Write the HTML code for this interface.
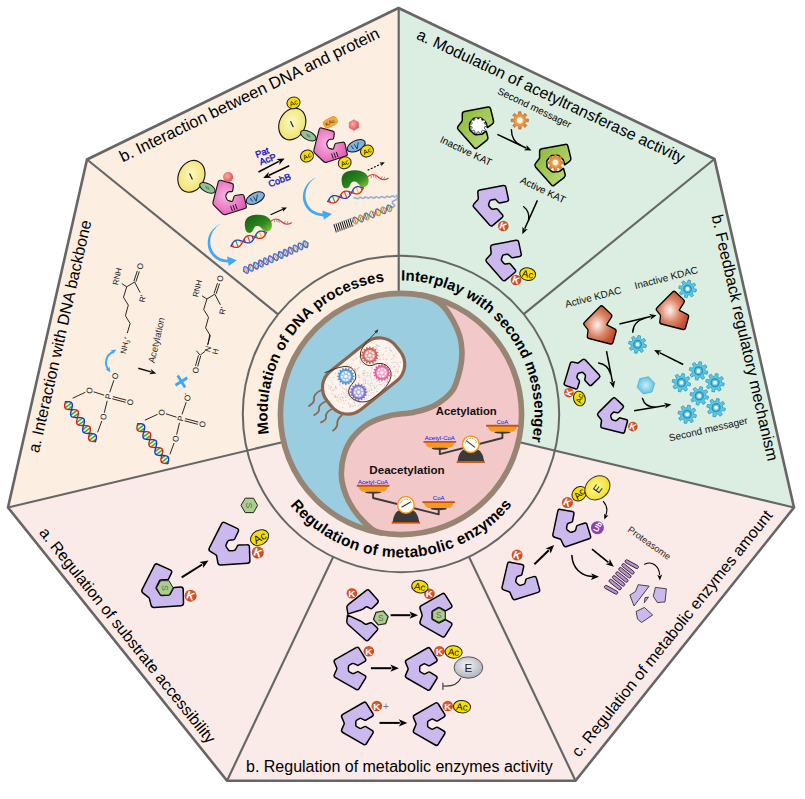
<!DOCTYPE html>
<html><head><meta charset="utf-8"><title>Figure</title>
<style>html,body{margin:0;padding:0;background:#fff;}svg{display:block}text{font-family:"Liberation Sans",sans-serif;}</style>
</head><body>
<svg width="805" height="799" viewBox="0 0 805 799">
<rect width="805" height="799" fill="#fff"/>
<polygon points="401.0,414.0 8.0,507.5 87.0,159.5 398.5,8.0 398.5,414" fill="#fceee0"/>
<polygon points="398.5,414 398.5,8.0 714.5,159.0 794.0,507.5 401.0,414.0" fill="#dceee1"/>
<polygon points="401.0,414.0 794.0,507.5 575.5,780.7 227.0,780.7 8.0,507.5" fill="#fbebe8"/>
<line x1="523.7" y1="314.2" x2="714.5" y2="159" stroke="#666666" stroke-width="2.15"/>
<line x1="469.0" y1="556.9" x2="575.5" y2="780.7" stroke="#666666" stroke-width="2.15"/>
<line x1="333.2" y1="556.9" x2="227" y2="780.7" stroke="#666666" stroke-width="2.15"/>
<line x1="278.1" y1="314.4" x2="87" y2="159.5" stroke="#666666" stroke-width="2.15"/>
<line x1="518.7" y1="442.0" x2="794" y2="507.5" stroke="#666666" stroke-width="2.15"/>
<line x1="283.3" y1="442.0" x2="8" y2="507.5" stroke="#666666" stroke-width="2.15"/>
<line x1="398.7" y1="295" x2="398.7" y2="8" stroke="#666666" stroke-width="2.15"/>
<polygon points="398.5,8.0 714.5,159.0 794.0,507.5 575.5,780.7 227.0,780.7 8.0,507.5 87.0,159.5" fill="none" stroke="#666666" stroke-width="2.6" stroke-linejoin="miter"/>
<circle cx="401" cy="414" r="158.2" fill="none" stroke="#666666" stroke-width="2"/>
<circle cx="401" cy="414" r="120.6" fill="#f2c8c9"/>
<clipPath id="cc"><circle cx="401" cy="414" r="120.6"/></clipPath>
<path d="M417.8,294.6C419.8,295.1 425.8,295.6 430.0,297.5C434.2,299.4 439.1,302.1 442.9,305.9C446.7,309.7 450.2,315.4 453.0,320.5C455.8,325.6 458.3,331.1 459.8,336.3C461.3,341.6 461.9,346.8 462.0,352.0C462.1,357.2 461.9,361.4 460.4,367.8C458.8,374.2 456.9,384.1 452.7,390.3C448.5,396.5 441.4,401.6 435.0,405.2C428.6,408.8 421.6,410.4 414.0,412.2C406.4,413.9 397.2,413.8 389.6,415.7C382.0,417.6 374.6,420.0 368.5,423.6C362.4,427.2 356.9,432.4 352.8,437.6C348.7,442.8 345.9,448.6 344.0,455.0C342.1,461.4 341.1,469.3 341.4,476.0C341.7,482.7 343.8,489.4 345.9,495.0C348.0,500.6 350.8,505.2 353.8,509.7C356.8,514.2 360.6,518.5 364.0,522.0C367.4,525.5 370.8,528.6 374.0,530.5C377.2,532.4 381.5,533.0 383.0,533.5 L383,560 L250,560 L250,250 L417.8,250 Z" fill="#9acde0" clip-path="url(#cc)"/>
<path d="M417.8,294.6C419.8,295.1 425.8,295.6 430.0,297.5C434.2,299.4 439.1,302.1 442.9,305.9C446.7,309.7 450.2,315.4 453.0,320.5C455.8,325.6 458.3,331.1 459.8,336.3C461.3,341.6 461.9,346.8 462.0,352.0C462.1,357.2 461.9,361.4 460.4,367.8C458.8,374.2 456.9,384.1 452.7,390.3C448.5,396.5 441.4,401.6 435.0,405.2C428.6,408.8 421.6,410.4 414.0,412.2C406.4,413.9 397.2,413.8 389.6,415.7C382.0,417.6 374.6,420.0 368.5,423.6C362.4,427.2 356.9,432.4 352.8,437.6C348.7,442.8 345.9,448.6 344.0,455.0C342.1,461.4 341.1,469.3 341.4,476.0C341.7,482.7 343.8,489.4 345.9,495.0C348.0,500.6 350.8,505.2 353.8,509.7C356.8,514.2 360.6,518.5 364.0,522.0C367.4,525.5 370.8,528.6 374.0,530.5C377.2,532.4 381.5,533.0 383.0,533.5" fill="none" stroke="#978473" stroke-width="5.6"/>
<circle cx="401" cy="414" r="120.6" fill="none" stroke="#978473" stroke-width="5.6"/>
<defs><path id="rp1" d="M285.39,480.75 A133.5,133.5 0 0 1 446.66,288.55" fill="none"/><path id="rp2" d="M355.34,288.55 A133.5,133.5 0 0 1 510.36,490.57" fill="none"/><path id="rp3" d="M259.68,438.92 A143.5,143.5 0 0 0 542.32,438.92" fill="none"/></defs>
<text font-family="Liberation Sans, sans-serif" font-weight="bold" font-size="15" letter-spacing="0" fill="#000"><textPath href="#rp1" startOffset="49.86">Modulation of DNA processes</textPath></text>
<text font-family="Liberation Sans, sans-serif" font-weight="bold" font-size="15" letter-spacing="0" fill="#000"><textPath href="#rp2" startOffset="46.60">Interplay with second messenger</textPath></text>
<text font-family="Liberation Sans, sans-serif" font-weight="bold" font-size="15.5" letter-spacing="0.27" fill="#000"><textPath href="#rp3" startOffset="73.63">Regulation of metabolic enzymes</textPath></text>
<text transform="translate(38.8,453.6) rotate(-77.2)" font-family="Liberation Sans, sans-serif" font-size="16.1" fill="#000" text-anchor="start">a. Interaction with DNA backbone</text>
<text transform="translate(122.7,162.5) rotate(-25.9)" font-family="Liberation Sans, sans-serif" font-size="16.46" fill="#000" text-anchor="start">b. Interaction between DNA and protein</text>
<text transform="translate(415.5,38.4) rotate(25.2)" font-family="Liberation Sans, sans-serif" font-size="16.05" fill="#000" text-anchor="start">a. Modulation of acetyltransferase activity</text>
<text transform="translate(711.4,216) rotate(77.1)" font-family="Liberation Sans, sans-serif" font-size="16.16" fill="#000" text-anchor="start">b. Feedback regulatory mechanism</text>
<text transform="translate(579.1,758) rotate(-51.3)" font-family="Liberation Sans, sans-serif" font-size="16.02" fill="#000" text-anchor="start">c. Regulation of metabolic enzymes amount</text>
<text transform="translate(246,771.8) rotate(0)" font-family="Liberation Sans, sans-serif" font-size="16.0" fill="#000" text-anchor="start">b. Regulation of metabolic enzymes activity</text>
<text transform="translate(38.4,532.8) rotate(51.3)" font-family="Liberation Sans, sans-serif" font-size="15.95" fill="#000" text-anchor="start">a. Regulation of substrate accessibility</text>
<defs>
<radialGradient id="gK" cx="0.45" cy="0.4" r="0.6"><stop offset="0" stop-color="#e0683e"/><stop offset="1" stop-color="#c4481f"/></radialGradient>
<radialGradient id="gY" cx="0.45" cy="0.45" r="0.6"><stop offset="0" stop-color="#fdf9c4"/><stop offset="1" stop-color="#efe06a"/></radialGradient>
<radialGradient id="gE" cx="0.45" cy="0.45" r="0.6"><stop offset="0" stop-color="#fff9a0"/><stop offset="1" stop-color="#f2dc1a"/></radialGradient>
<radialGradient id="gEg" cx="0.45" cy="0.4" r="0.65"><stop offset="0" stop-color="#f4f5f7"/><stop offset="1" stop-color="#a9adb6"/></radialGradient>
<radialGradient id="gKD" cx="0.42" cy="0.5" r="0.55"><stop offset="0" stop-color="#fff4ee"/><stop offset="0.55" stop-color="#dd8768"/><stop offset="1" stop-color="#bf4f30"/></radialGradient>
<radialGradient id="gPk" cx="0.4" cy="0.45" r="0.65"><stop offset="0" stop-color="#f7b6e0"/><stop offset="1" stop-color="#e257b4"/></radialGradient>
<linearGradient id="gGr" x1="0" y1="0" x2="1" y2="1"><stop offset="0" stop-color="#86b531"/><stop offset="1" stop-color="#c3df84"/></linearGradient>
<radialGradient id="gRd" cx="0.4" cy="0.4" r="0.6"><stop offset="0" stop-color="#f9b0a8"/><stop offset="1" stop-color="#e5525c"/></radialGradient>
<radialGradient id="gHx" cx="0.5" cy="0.5" r="0.6"><stop offset="0" stop-color="#c9eef8"/><stop offset="1" stop-color="#4fb8dc"/></radialGradient>
<radialGradient id="gOr" cx="0.5" cy="0.5" r="0.55"><stop offset="0" stop-color="#f6c27a"/><stop offset="1" stop-color="#d9701c"/></radialGradient>
<radialGradient id="gBl" cx="0.5" cy="0.5" r="0.55"><stop offset="0" stop-color="#bfe6f2"/><stop offset="1" stop-color="#3aa6cc"/></radialGradient>
<linearGradient id="gGb" x1="0" y1="0" x2="1" y2="1"><stop offset="0" stop-color="#0e5a12"/><stop offset="0.6" stop-color="#2f8a1f"/><stop offset="1" stop-color="#9ccc3c"/></linearGradient>
</defs>
<text transform="translate(533.0,110.8) rotate(25.6)" font-family="Liberation Sans, sans-serif" font-size="10" fill="#000" text-anchor="middle" font-weight="normal" font-style="normal" letter-spacing="0">Second messager</text>
<text transform="translate(464.5,154) rotate(25.6)" font-family="Liberation Sans, sans-serif" font-size="10" fill="#000" text-anchor="middle" font-weight="normal" font-style="normal" letter-spacing="0">Inactive KAT</text>
<text transform="translate(541.5,193) rotate(25.6)" font-family="Liberation Sans, sans-serif" font-size="10" fill="#000" text-anchor="middle" font-weight="normal" font-style="normal" letter-spacing="0">Active KAT</text>
<path d="M462.3,114.1Q462.3,111.9 464.5,111.5L487.9,107.1Q490.1,106.7 490.6,108.8L493.5,120.7Q494.0,122.8 492.2,124.1L487.7,127.3Q487.3,127.6 487.2,127.1L486.4,123.6Q486.2,122.8 485.6,122.2L481.7,118.5Q480.9,117.8 479.9,117.9L474.8,118.2Q473.8,118.3 473.1,119.1L470.1,122.6Q469.5,123.4 469.5,124.4L469.7,129.0Q469.7,130.0 470.5,130.7L474.3,134.1Q475.1,134.8 476.1,134.7L481.5,134.2Q482.3,134.1 482.9,133.6L485.7,131.3Q486.1,131.0 486.3,131.5L487.8,136.8Q488.5,138.9 486.7,140.3L477.1,147.8Q475.4,149.2 474.0,147.5L458.2,129.6Q456.8,128.0 458.1,126.3L461.8,121.5Q462.3,120.9 462.3,120.1Z" fill="url(#gGr)" stroke="#000" stroke-width="1.5" stroke-linejoin="round"/>
<path d="M484.6,124.1L486.5,124.4L486.5,126.4L484.6,126.7L484.1,128.2L485.5,129.5L484.4,131.1L482.7,130.2L481.4,131.1L481.7,133.0L479.8,133.6L479.0,131.9L477.4,131.9L476.6,133.6L474.7,133.0L475.0,131.1L473.7,130.2L472.0,131.1L470.9,129.5L472.3,128.2L471.8,126.7L469.9,126.4L469.9,124.4L471.8,124.1L472.3,122.6L470.9,121.3L472.0,119.7L473.7,120.6L475.0,119.7L474.7,117.8L476.6,117.2L477.4,118.9L479.0,118.9L479.8,117.2L481.7,117.8L481.4,119.7L482.7,120.6L484.4,119.7L485.5,121.3L484.1,122.6Z" fill="#fff" stroke="#222" stroke-width="0.7" stroke-linejoin="round"/>
<path d="M539.6,151.4Q539.6,149.2 541.8,148.8L565.2,144.4Q567.4,144.0 567.9,146.1L570.8,158.0Q571.3,160.1 569.5,161.4L565.0,164.6Q564.6,164.9 564.5,164.4L563.7,160.9Q563.5,160.1 562.9,159.5L559.0,155.8Q558.2,155.1 557.2,155.2L552.1,155.5Q551.1,155.6 550.4,156.4L547.4,159.9Q546.8,160.7 546.8,161.7L547.0,166.3Q547.0,167.3 547.8,168.0L551.6,171.4Q552.4,172.1 553.4,172.0L558.8,171.5Q559.6,171.4 560.2,170.9L563.0,168.6Q563.4,168.3 563.6,168.8L565.1,174.1Q565.8,176.2 564.0,177.6L554.4,185.1Q552.7,186.5 551.3,184.8L535.5,166.9Q534.1,165.3 535.4,163.6L539.1,158.8Q539.6,158.2 539.6,157.4Z" fill="url(#gGr)" stroke="#000" stroke-width="1.5" stroke-linejoin="round"/>
<path d="M560.9,161.2L563.6,161.4L563.6,163.8L560.9,164.0L560.2,165.5L562.1,167.5L560.3,169.3L558.3,167.4L556.8,168.1L556.6,170.8L554.2,170.8L554.0,168.1L552.5,167.4L550.5,169.3L548.7,167.5L550.6,165.5L549.9,164.0L547.2,163.8L547.2,161.4L549.9,161.2L550.6,159.7L548.7,157.7L550.5,155.9L552.5,157.8L554.0,157.1L554.2,154.4L556.6,154.4L556.8,157.1L558.3,157.8L560.3,155.9L562.1,157.7L560.2,159.7Z" fill="url(#gOr)" stroke="#c9651b" stroke-width="0.6" stroke-linejoin="round"/>
<circle cx="555.4" cy="162.6" r="2.8" fill="#fff3dc"/>
<path d="M525.6,119.0L528.5,119.1L528.5,121.7L525.6,121.8L524.9,123.5L526.9,125.6L525.0,127.5L522.9,125.5L521.2,126.2L521.1,129.1L518.5,129.1L518.4,126.2L516.7,125.5L514.6,127.5L512.7,125.6L514.7,123.5L514.0,121.8L511.1,121.7L511.1,119.1L514.0,119.0L514.7,117.3L512.7,115.2L514.6,113.3L516.7,115.3L518.4,114.6L518.5,111.7L521.1,111.7L521.2,114.6L522.9,115.3L525.0,113.3L526.9,115.2L524.9,117.3Z" fill="url(#gOr)" stroke="#c9651b" stroke-width="0.6" stroke-linejoin="round"/>
<circle cx="519.8" cy="120.4" r="3.0" fill="#eef4e6"/>
<line x1="497.4" y1="134.4" x2="526.1" y2="148.0" stroke="#000" stroke-width="1.5"/>
<polygon points="531.5,150.6 523.9,150.3 526.8,148.3 526.4,144.9" fill="#000"/>
<path d="M511.4,129.7 C511.5,137 514,142 520.5,145.2" fill="none" stroke="#000" stroke-width="1.4" stroke-linecap="round"/>
<path d="M477.8,192.6Q477.7,190.4 479.8,190.0L503.2,185.5Q505.4,185.1 505.9,187.3L508.4,199.0Q508.9,201.1 506.7,201.6L499.8,203.0Q499.0,203.1 498.4,202.5L496.1,200.1Q495.3,199.2 494.1,199.4L491.2,200.0Q490.0,200.2 489.6,201.4L488.7,204.2Q488.3,205.4 489.1,206.3L491.0,208.5Q491.7,209.4 492.9,209.2L496.3,208.7Q497.1,208.6 497.6,209.2L502.2,214.6Q503.7,216.3 502.0,217.7L492.8,225.3Q491.1,226.7 489.6,225.1L473.9,207.2Q472.5,205.5 473.9,203.9L477.8,199.7Q478.4,199.1 478.3,198.3Z" fill="#cbb8ec" stroke="#000" stroke-width="1.5" stroke-linejoin="round"/>
<circle cx="503.3" cy="226" r="5.3" fill="url(#gK)"/>
<text transform="translate(503.3,226) rotate(20)" x="0" y="3.5" font-family="Liberation Sans, sans-serif" font-size="9.8" font-weight="bold" fill="#fff" text-anchor="middle">K</text>
<line x1="537.4" y1="200.4" x2="524.7" y2="228.8" stroke="#000" stroke-width="1.5"/>
<polygon points="522.3,234.3 522.5,226.7 524.4,229.5 527.8,229.1" fill="#000"/>
<path d="M523.7,206.7 C528,210 529.5,215 528.6,220.5" fill="none" stroke="#000" stroke-width="1.4" stroke-linecap="round"/>
<path d="M490.6,247.4Q490.5,245.2 492.6,244.8L516.0,240.3Q518.2,239.9 518.7,242.1L521.2,253.8Q521.7,255.9 519.5,256.4L512.6,257.8Q511.8,257.9 511.2,257.3L508.9,254.9Q508.1,254.0 506.9,254.2L504.0,254.8Q502.8,255.0 502.4,256.2L501.5,259.0Q501.1,260.2 501.9,261.1L503.8,263.3Q504.5,264.2 505.7,264.0L509.1,263.5Q509.9,263.4 510.4,264.0L515.0,269.4Q516.5,271.1 514.8,272.5L505.6,280.1Q503.9,281.5 502.4,279.9L486.7,262.0Q485.3,260.3 486.7,258.7L490.6,254.5Q491.2,253.9 491.1,253.1Z" fill="#cbb8ec" stroke="#000" stroke-width="1.5" stroke-linejoin="round"/>
<circle cx="516" cy="280" r="5.3" fill="url(#gK)"/>
<text transform="translate(516,280) rotate(20)" x="0" y="3.5" font-family="Liberation Sans, sans-serif" font-size="9.8" font-weight="bold" fill="#fff" text-anchor="middle">K</text>
<ellipse transform="translate(527.7,274.1) rotate(10)" rx="8" ry="6.3" fill="#f7e000" stroke="#222" stroke-width="1"/>
<text transform="translate(527.7,274.1) rotate(10)" x="0" y="3.5" font-family="Liberation Sans, sans-serif" font-size="9.8" fill="#111" text-anchor="middle">Ac</text>
<text transform="translate(594,300.5) rotate(-14.5)" font-family="Liberation Sans, sans-serif" font-size="10" fill="#111" text-anchor="middle" font-weight="normal" font-style="normal" letter-spacing="0">Active KDAC</text>
<text transform="translate(667,281) rotate(-14.5)" font-family="Liberation Sans, sans-serif" font-size="10" fill="#111" text-anchor="middle" font-weight="normal" font-style="normal" letter-spacing="0">Inactive KDAC</text>
<text transform="translate(709,432.5) rotate(-12.9)" font-family="Liberation Sans, sans-serif" font-size="10" fill="#111" text-anchor="middle" font-weight="normal" font-style="normal" letter-spacing="0">Second messager</text>
<path d="M693.8,288.7L696.5,289.4L695.9,292.0L693.2,291.6L692.2,293.2L693.5,295.6L691.3,297.0L689.6,294.8L687.8,295.1L687.1,297.8L684.5,297.2L684.9,294.5L683.3,293.5L680.9,294.8L679.5,292.6L681.7,290.9L681.4,289.1L678.7,288.4L679.3,285.8L682.0,286.2L683.0,284.6L681.7,282.2L683.9,280.8L685.6,283.0L687.4,282.7L688.1,280.0L690.7,280.6L690.3,283.3L691.9,284.3L694.3,283.0L695.7,285.2L693.5,286.9Z" fill="#62c5e1" stroke="#2b9cc3" stroke-width="0.8" stroke-linejoin="round"/>
<circle cx="687.6" cy="288.9" r="3.7" fill="none" stroke="#2497c0" stroke-width="1.5"/>
<circle cx="687.6" cy="288.9" r="1.8" fill="#f2faf6"/>
<path d="M584.3,325.2Q583.0,323.6 584.5,322.2L600.1,306.5Q601.5,305.0 603.0,306.4L611.1,314.1Q612.6,315.5 611.5,317.2L607.0,324.2Q606.5,324.9 607.3,325.2L614.7,328.9Q616.6,329.8 616.0,331.8L613.0,342.5Q612.4,344.5 610.4,344.0L589.0,338.5Q587.0,338.0 587.3,336.0L588.0,330.7Q588.2,330.0 587.7,329.3Z" fill="url(#gKD)" stroke="#000" stroke-width="1.3" stroke-linejoin="round"/>
<path d="M656.8,310.7Q655.5,309.1 657.0,307.7L672.6,292.0Q674.0,290.5 675.5,291.9L683.6,299.6Q685.1,301.0 684.0,302.7L679.5,309.7Q679.0,310.4 679.8,310.7L687.2,314.4Q689.1,315.3 688.5,317.3L685.5,328.0Q684.9,330.0 682.9,329.5L661.5,324.0Q659.5,323.5 659.8,321.5L660.5,316.2Q660.7,315.5 660.2,314.8Z" fill="url(#gKD)" stroke="#000" stroke-width="1.3" stroke-linejoin="round"/>
<line x1="619.4" y1="324.1" x2="650.8" y2="316.6" stroke="#000" stroke-width="1.5"/>
<polygon points="656.6,315.2 650.5,319.7 651.5,316.4 649.1,314.0" fill="#000"/>
<path d="M632.8,332.2 C633,325 637,320.5 645,318.2" fill="none" stroke="#000" stroke-width="1.4" stroke-linecap="round"/>
<path d="M643.8,344.2L646.5,344.9L645.9,347.6L643.2,347.2L642.1,348.7L643.5,351.1L641.2,352.6L639.6,350.4L637.7,350.7L637.0,353.4L634.3,352.8L634.7,350.1L633.2,349.0L630.8,350.4L629.3,348.1L631.5,346.5L631.2,344.6L628.5,343.9L629.1,341.2L631.8,341.6L632.9,340.1L631.5,337.7L633.8,336.2L635.4,338.4L637.3,338.1L638.0,335.4L640.7,336.0L640.3,338.7L641.8,339.8L644.2,338.4L645.7,340.7L643.5,342.3Z" fill="#62c5e1" stroke="#2b9cc3" stroke-width="0.8" stroke-linejoin="round"/>
<circle cx="637.5" cy="344.4" r="3.8" fill="none" stroke="#2497c0" stroke-width="1.5"/>
<circle cx="637.5" cy="344.4" r="1.8" fill="#f2faf6"/>
<line x1="683.2" y1="364.5" x2="659.5" y2="352.6" stroke="#000" stroke-width="1.5"/>
<polygon points="654.1,349.9 661.7,350.4 658.8,352.3 659.0,355.7" fill="#000"/>
<path d="M705.0,370.7L707.8,371.5L707.2,374.2L704.4,373.7L703.3,375.3L704.7,377.9L702.3,379.4L700.6,377.1L698.7,377.4L697.9,380.2L695.2,379.6L695.7,376.8L694.1,375.7L691.5,377.1L690.0,374.7L692.3,373.0L692.0,371.1L689.2,370.3L689.8,367.6L692.6,368.1L693.7,366.5L692.3,363.9L694.7,362.4L696.4,364.7L698.3,364.4L699.1,361.6L701.8,362.2L701.3,365.0L702.9,366.1L705.5,364.7L707.0,367.1L704.7,368.8Z" fill="#62c5e1" stroke="#2b9cc3" stroke-width="0.8" stroke-linejoin="round"/>
<circle cx="698.5" cy="370.9" r="3.9" fill="none" stroke="#2497c0" stroke-width="1.5"/>
<circle cx="698.5" cy="370.9" r="1.9" fill="#f2faf6"/>
<path d="M687.9,382.5L690.7,383.3L690.1,386.0L687.3,385.5L686.2,387.1L687.6,389.7L685.2,391.2L683.5,388.9L681.6,389.2L680.8,392.0L678.1,391.4L678.6,388.6L677.0,387.5L674.4,388.9L672.9,386.5L675.2,384.8L674.9,382.9L672.1,382.1L672.7,379.4L675.5,379.9L676.6,378.3L675.2,375.7L677.6,374.2L679.3,376.5L681.2,376.2L682.0,373.4L684.7,374.0L684.2,376.8L685.8,377.9L688.4,376.5L689.9,378.9L687.6,380.6Z" fill="#62c5e1" stroke="#2b9cc3" stroke-width="0.8" stroke-linejoin="round"/>
<circle cx="681.4" cy="382.7" r="3.9" fill="none" stroke="#2497c0" stroke-width="1.5"/>
<circle cx="681.4" cy="382.7" r="1.9" fill="#f2faf6"/>
<path d="M721.5,382.5L724.3,383.3L723.7,386.0L720.9,385.5L719.8,387.1L721.2,389.7L718.8,391.2L717.1,388.9L715.2,389.2L714.4,392.0L711.7,391.4L712.2,388.6L710.6,387.5L708.0,388.9L706.5,386.5L708.8,384.8L708.5,382.9L705.7,382.1L706.3,379.4L709.1,379.9L710.2,378.3L708.8,375.7L711.2,374.2L712.9,376.5L714.8,376.2L715.6,373.4L718.3,374.0L717.8,376.8L719.4,377.9L722.0,376.5L723.5,378.9L721.2,380.6Z" fill="#62c5e1" stroke="#2b9cc3" stroke-width="0.8" stroke-linejoin="round"/>
<circle cx="715" cy="382.7" r="3.9" fill="none" stroke="#2497c0" stroke-width="1.5"/>
<circle cx="715" cy="382.7" r="1.9" fill="#f2faf6"/>
<path d="M705.8,395.7L708.6,396.5L708.0,399.2L705.2,398.7L704.1,400.3L705.5,402.9L703.1,404.4L701.4,402.1L699.5,402.4L698.7,405.2L696.0,404.6L696.5,401.8L694.9,400.7L692.3,402.1L690.8,399.7L693.1,398.0L692.8,396.1L690.0,395.3L690.6,392.6L693.4,393.1L694.5,391.5L693.1,388.9L695.5,387.4L697.2,389.7L699.1,389.4L699.9,386.6L702.6,387.2L702.1,390.0L703.7,391.1L706.3,389.7L707.8,392.1L705.5,393.8Z" fill="#62c5e1" stroke="#2b9cc3" stroke-width="0.8" stroke-linejoin="round"/>
<circle cx="699.3" cy="395.9" r="3.9" fill="none" stroke="#2497c0" stroke-width="1.5"/>
<circle cx="699.3" cy="395.9" r="1.9" fill="#f2faf6"/>
<path d="M693.7,414.1L696.5,414.9L695.9,417.6L693.1,417.1L692.0,418.7L693.4,421.3L691.0,422.8L689.3,420.5L687.4,420.8L686.6,423.6L683.9,423.0L684.4,420.2L682.8,419.1L680.2,420.5L678.7,418.1L681.0,416.4L680.7,414.5L677.9,413.7L678.5,411.0L681.3,411.5L682.4,409.9L681.0,407.3L683.4,405.8L685.1,408.1L687.0,407.8L687.8,405.0L690.5,405.6L690.0,408.4L691.6,409.5L694.2,408.1L695.7,410.5L693.4,412.2Z" fill="#62c5e1" stroke="#2b9cc3" stroke-width="0.8" stroke-linejoin="round"/>
<circle cx="687.2" cy="414.3" r="3.9" fill="none" stroke="#2497c0" stroke-width="1.5"/>
<circle cx="687.2" cy="414.3" r="1.9" fill="#f2faf6"/>
<path d="M722.6,407.5L725.4,408.3L724.8,411.0L722.0,410.5L720.9,412.1L722.3,414.7L719.9,416.2L718.2,413.9L716.3,414.2L715.5,417.0L712.8,416.4L713.3,413.6L711.7,412.5L709.1,413.9L707.6,411.5L709.9,409.8L709.6,407.9L706.8,407.1L707.4,404.4L710.2,404.9L711.3,403.3L709.9,400.7L712.3,399.2L714.0,401.5L715.9,401.2L716.7,398.4L719.4,399.0L718.9,401.8L720.5,402.9L723.1,401.5L724.6,403.9L722.3,405.6Z" fill="#62c5e1" stroke="#2b9cc3" stroke-width="0.8" stroke-linejoin="round"/>
<circle cx="716.1" cy="407.7" r="3.9" fill="none" stroke="#2497c0" stroke-width="1.5"/>
<circle cx="716.1" cy="407.7" r="1.9" fill="#f2faf6"/>
<polygon points="654.7,383.3 652.0,391.9 643.3,393.9 637.1,387.3 639.8,378.7 648.5,376.7" fill="url(#gHx)" stroke="#49b0d6" stroke-width="0.8" stroke-linejoin="round"/>
<line x1="634.1" y1="410.8" x2="665.5" y2="405.5" stroke="#000" stroke-width="1.5"/>
<polygon points="671.4,404.5 665.0,408.6 666.2,405.4 664.0,402.8" fill="#000"/>
<path d="M642.5,398.5 C644,404 648,407 655,407.3" fill="none" stroke="#000" stroke-width="1.4" stroke-linecap="round"/>
<line x1="606.5" y1="351.2" x2="612.5" y2="382.1" stroke="#000" stroke-width="1.5"/>
<polygon points="613.6,388.0 609.4,381.7 612.6,382.8 615.2,380.6" fill="#000"/>
<path d="M598.6,363 C605,364 609,368 610.5,374" fill="none" stroke="#000" stroke-width="1.4" stroke-linecap="round"/>
<path d="M582.6,359.7Q584.1,358.6 585.4,360.0L599.3,375.0Q600.6,376.4 599.2,377.8L591.9,384.9Q590.5,386.3 589.2,384.9L585.1,380.5Q584.6,380.0 584.8,379.2L585.4,376.6Q585.7,375.5 584.9,374.6L583.4,373.0Q582.6,372.1 581.4,372.4L579.2,372.9Q578.0,373.2 577.7,374.3L577.0,376.4Q576.7,377.5 577.5,378.5L579.2,380.5Q579.7,381.1 579.5,381.8L577.7,387.6Q577.1,389.4 575.3,388.8L565.5,385.5Q563.7,384.9 564.3,383.1L570.2,363.5Q570.7,361.7 572.6,362.1L577.3,362.9Q578.1,363.1 578.7,362.6Z" fill="#cbb8ec" stroke="#000" stroke-width="1.5" stroke-linejoin="round"/>
<circle cx="568.9" cy="392.7" r="4.8" fill="url(#gK)"/>
<text transform="translate(568.9,392.7) rotate(-70)" x="0" y="3.2" font-family="Liberation Sans, sans-serif" font-size="8.9" font-weight="bold" fill="#fff" text-anchor="middle">K</text>
<ellipse transform="translate(579.4,398.5) rotate(75)" rx="7.4" ry="5.8" fill="#f7e000" stroke="#222" stroke-width="1"/>
<text transform="translate(579.4,398.5) rotate(-75)" x="0" y="2.9" font-family="Liberation Sans, sans-serif" font-size="8.0" fill="#111" text-anchor="middle">Ac</text>
<path d="M598.1,415.7Q596.9,414.3 598.2,412.9L612.7,398.4Q614.0,397.0 615.4,398.3L622.9,405.4Q624.2,406.7 622.9,408.0L618.8,412.3Q618.2,412.9 617.4,412.7L614.8,412.2Q613.7,411.9 612.8,412.8L611.3,414.4Q610.5,415.2 610.8,416.4L611.4,418.5Q611.7,419.7 612.9,420.0L615.0,420.6Q616.1,420.9 617.0,420.1L619.0,418.2Q619.5,417.7 620.3,417.9L626.1,419.4Q627.9,419.9 627.4,421.7L624.6,431.7Q624.1,433.5 622.3,433.0L602.4,428.0Q600.6,427.5 600.8,425.6L601.5,420.9Q601.6,420.1 601.1,419.5Z" fill="#cbb8ec" stroke="#000" stroke-width="1.5" stroke-linejoin="round"/>
<circle cx="632.8" cy="426.6" r="4.8" fill="url(#gK)"/>
<text transform="translate(632.8,426.6) rotate(20)" x="0" y="3.2" font-family="Liberation Sans, sans-serif" font-size="8.9" font-weight="bold" fill="#fff" text-anchor="middle">K</text>
<path d="M143.1,593.2Q141.1,591.7 142.2,589.4L154.4,565.4Q155.5,563.2 157.7,564.2L170.2,569.9Q172.5,570.9 171.4,573.1L168.6,578.8Q168.3,579.3 167.7,579.4L160.7,580.0Q159.9,580.1 159.5,580.8L156.3,587.3Q155.9,588.0 156.3,588.6L160.4,594.8Q160.9,595.5 161.7,595.5L168.9,595.0Q169.7,594.9 170.1,594.2L173.4,588.0Q173.7,587.4 174.3,587.4L180.6,587.0Q183.1,586.9 183.2,589.4L183.5,603.1Q183.5,605.6 181.1,605.7L154.2,607.5Q151.7,607.7 151.1,605.3L149.4,598.6Q149.2,597.9 148.5,597.4Z" fill="#cbb8ec" stroke="#000" stroke-width="1.5" stroke-linejoin="round"/>
<polygon points="173.1,587.9 169.0,595.1 160.7,595.1 156.5,587.9 160.7,580.7 169.0,580.7" fill="#a9cf8c" stroke="#222" stroke-width="1" stroke-linejoin="round"/>
<text transform="translate(164.8,587.9) rotate(90)" x="0" y="2.8" font-family="Liberation Sans, sans-serif" font-size="8.5" fill="#6a6a6a" text-anchor="middle">S</text>
<circle cx="190.6" cy="595.7" r="6" fill="url(#gK)"/>
<text transform="translate(190.6,595.7) rotate(20)" x="0" y="4.0" font-family="Liberation Sans, sans-serif" font-size="11.1" font-weight="bold" fill="#fff" text-anchor="middle">K</text>
<line x1="181.7" y1="577.4" x2="202.2" y2="564.5" stroke="#000" stroke-width="2"/>
<polygon points="208.5,560.5 203.2,568.1 203.1,563.9 199.4,562.0" fill="#000"/>
<path d="M210.3,551.4Q208.2,550.0 209.4,547.8L221.5,523.8Q222.6,521.6 224.8,522.6L237.1,528.4Q239.3,529.4 238.2,531.7L234.7,539.0Q234.3,539.7 233.5,539.8L229.4,540.2Q228.2,540.3 227.7,541.4L226.1,544.6Q225.6,545.7 226.2,546.7L228.3,549.8Q228.9,550.8 230.1,550.7L233.8,550.6Q235.0,550.5 235.5,549.4L237.5,545.8Q237.9,545.1 238.7,545.1L246.8,544.7Q249.3,544.5 249.4,547.0L249.9,560.5Q250.0,563.0 247.6,563.2L220.7,564.9Q218.2,565.1 217.8,562.7L216.7,556.2Q216.5,555.4 215.9,554.9Z" fill="#cbb8ec" stroke="#000" stroke-width="1.5" stroke-linejoin="round"/>
<ellipse transform="translate(259.6,537.6) rotate(-30)" rx="9.5" ry="7.3" fill="#f7e000" stroke="#222" stroke-width="1"/>
<text transform="translate(259.6,537.6) rotate(-30)" x="0" y="4.0" font-family="Liberation Sans, sans-serif" font-size="11.0" fill="#111" text-anchor="middle">Ac</text>
<circle cx="257.8" cy="552.5" r="6" fill="url(#gK)"/>
<text transform="translate(257.8,552.5) rotate(20)" x="0" y="4.0" font-family="Liberation Sans, sans-serif" font-size="11.1" font-weight="bold" fill="#fff" text-anchor="middle">K</text>
<polygon points="257.6,505.4 253.5,512.6 245.2,512.6 241.0,505.4 245.2,498.2 253.5,498.2" fill="#a9cf8c" stroke="#222" stroke-width="1" stroke-linejoin="round"/>
<text transform="translate(249.3,505.4) rotate(90)" x="0" y="2.8" font-family="Liberation Sans, sans-serif" font-size="8.5" fill="#6a6a6a" text-anchor="middle">S</text>
<path d="M346.9,608.2Q346.5,606.0 348.2,604.6L366.3,590.4Q368.0,589.0 369.5,590.7L377.5,599.8Q379.0,601.5 377.4,603.1L372.2,608.3Q371.5,609.0 370.6,608.6L367.6,607.0Q366.5,606.5 365.5,607.2L363.3,608.9Q362.5,609.5 361.5,609.7L361.0,609.9Q360.5,610.0 360.0,610.2L348.3,613.9Q348.0,614.0 347.9,613.7Z" fill="#cbb8ec" stroke="#000" stroke-width="1.5" stroke-linejoin="round"/>
<path d="M347.5,615.3Q347.5,615.0 347.8,615.1L361.0,621.3Q361.5,621.5 361.9,621.8L364.7,623.9Q365.5,624.5 366.4,624.2L370.6,622.8Q371.5,622.5 372.2,623.2L376.9,627.5Q378.5,629.0 377.0,630.6L368.5,639.9Q367.0,641.5 365.4,640.0L348.1,624.5Q346.5,623.0 346.8,620.8Z" fill="#cbb8ec" stroke="#000" stroke-width="1.5" stroke-linejoin="round"/>
<circle cx="351.9" cy="593.3" r="5.3" fill="url(#gK)"/>
<text transform="translate(351.9,593.3) rotate(0)" x="0" y="3.5" font-family="Liberation Sans, sans-serif" font-size="9.8" font-weight="bold" fill="#fff" text-anchor="middle">K</text>
<polygon points="388.1,616.7 385.6,623.7 378.3,625.0 373.5,619.3 376.0,612.3 383.3,611.0" fill="#a9cf8c" stroke="#222" stroke-width="1.2" stroke-linejoin="round"/>
<text transform="translate(380.8,618) rotate(0)" x="0" y="2.8" font-family="Liberation Sans, sans-serif" font-size="8.5" fill="#6a6a6a" text-anchor="middle">S</text>
<line x1="390.6" y1="615.2" x2="410.5" y2="615.2" stroke="#000" stroke-width="2"/>
<polygon points="418.0,615.2 409.5,618.8 411.6,615.2 409.5,611.6" fill="#000"/>
<path d="M420.1,608.8Q419.4,606.7 421.3,605.6L442.0,593.8Q443.9,592.7 445.1,594.6L451.5,604.8Q452.7,606.7 450.8,607.8L446.0,610.6Q445.5,610.9 445.0,610.6L439.6,607.7Q438.9,607.3 438.2,607.7L432.8,610.8Q432.1,611.2 432.1,612.0L432.1,618.4Q432.1,619.2 432.8,619.6L438.2,622.7Q438.9,623.1 439.6,622.7L445.0,619.8Q445.5,619.5 446.0,619.8L450.8,622.6Q452.7,623.7 451.5,625.6L445.1,635.8Q443.9,637.7 442.0,636.6L421.3,624.8Q419.4,623.7 420.1,621.6L422.0,616.0Q422.3,615.2 422.0,614.4Z" fill="#cbb8ec" stroke="#000" stroke-width="1.5" stroke-linejoin="round"/>
<polygon points="445.3,618.9 438.9,622.6 432.5,618.9 432.5,611.5 438.9,607.8 445.3,611.5" fill="#a9cf8c" stroke="#222" stroke-width="1.2" stroke-linejoin="round"/>
<text transform="translate(438.9,615.2) rotate(0)" x="0" y="2.8" font-family="Liberation Sans, sans-serif" font-size="8.5" fill="#6a6a6a" text-anchor="middle">S</text>
<circle cx="429.4" cy="593.8" r="5.3" fill="url(#gK)"/>
<text transform="translate(429.4,593.8) rotate(0)" x="0" y="3.5" font-family="Liberation Sans, sans-serif" font-size="9.8" font-weight="bold" fill="#fff" text-anchor="middle">K</text>
<ellipse transform="translate(419.9,586.6) rotate(10)" rx="8.3" ry="6.2" fill="#f7e000" stroke="#222" stroke-width="1"/>
<text transform="translate(419.9,586.6) rotate(10)" x="0" y="3.5" font-family="Liberation Sans, sans-serif" font-size="9.6" fill="#111" text-anchor="middle">Ac</text>
<path d="M334.4,662.5Q333.5,660.5 335.4,659.4L356.1,647.6Q358.0,646.5 359.1,648.4L365.4,658.6Q366.5,660.5 364.6,661.6L358.5,665.2Q357.8,665.6 357.1,665.2L354.1,663.7Q353.0,663.1 352.0,663.7L349.4,665.2Q348.4,665.8 348.4,667.0L348.4,670.0Q348.4,671.2 349.4,671.8L352.0,673.3Q353.0,673.9 354.1,673.3L357.1,671.8Q357.8,671.4 358.5,671.8L364.6,675.4Q366.5,676.5 365.4,678.4L359.1,688.6Q358.0,690.5 356.1,689.4L335.4,677.6Q333.5,676.5 334.4,674.5L336.7,669.2Q337.0,668.5 336.7,667.8Z" fill="#cbb8ec" stroke="#000" stroke-width="1.5" stroke-linejoin="round"/>
<circle cx="368.8" cy="651.3" r="5.3" fill="url(#gK)"/>
<text transform="translate(368.8,651.3) rotate(0)" x="0" y="3.5" font-family="Liberation Sans, sans-serif" font-size="9.8" font-weight="bold" fill="#fff" text-anchor="middle">K</text>
<line x1="370.9" y1="668.2" x2="391.4" y2="668.2" stroke="#000" stroke-width="2"/>
<polygon points="398.9,668.2 390.4,671.8 392.5,668.2 390.4,664.6" fill="#000"/>
<path d="M405.7,662.9Q404.8,660.9 406.7,659.8L427.4,648.0Q429.3,646.9 430.4,648.8L436.7,659.0Q437.8,660.9 435.9,662.0L429.8,665.6Q429.1,666.0 428.4,665.6L425.4,664.1Q424.3,663.5 423.3,664.1L420.7,665.6Q419.7,666.2 419.7,667.4L419.7,670.4Q419.7,671.6 420.7,672.2L423.3,673.7Q424.3,674.3 425.4,673.7L428.4,672.2Q429.1,671.8 429.8,672.2L435.9,675.8Q437.8,676.9 436.7,678.8L430.4,689.0Q429.3,690.9 427.4,689.8L406.7,678.0Q404.8,676.9 405.7,674.9L408.0,669.6Q408.3,668.9 408.0,668.2Z" fill="#cbb8ec" stroke="#000" stroke-width="1.5" stroke-linejoin="round"/>
<circle cx="439.4" cy="651.3" r="5.3" fill="url(#gK)"/>
<text transform="translate(439.4,651.3) rotate(0)" x="0" y="3.5" font-family="Liberation Sans, sans-serif" font-size="9.8" font-weight="bold" fill="#fff" text-anchor="middle">K</text>
<ellipse transform="translate(453.6,652) rotate(5)" rx="8.6" ry="6.2" fill="#f7e000" stroke="#222" stroke-width="1"/>
<text transform="translate(453.6,652) rotate(5)" x="0" y="3.5" font-family="Liberation Sans, sans-serif" font-size="9.6" fill="#111" text-anchor="middle">Ac</text>
<ellipse cx="468.4" cy="667.5" rx="14.3" ry="10.7" fill="url(#gEg)" stroke="#555" stroke-width="1"/>
<text transform="translate(468.4,671.6) rotate(0)" font-family="Liberation Sans, sans-serif" font-size="11.5" fill="#222" text-anchor="middle" font-weight="normal" font-style="normal" letter-spacing="0">E</text>
<path d="M460.8,678.2 C458,684 451,686.5 443.5,686" fill="none" stroke="#333" stroke-width="1.1" stroke-linecap="round"/>
<path d="M442.9,683 L442.9,689.5" fill="none" stroke="#333" stroke-width="1.1" stroke-linecap="round"/>
<path d="M341.8,717.4Q340.9,715.4 342.8,714.3L363.5,702.5Q365.4,701.4 366.5,703.3L372.8,713.5Q373.9,715.4 372.0,716.5L365.9,720.1Q365.2,720.5 364.5,720.1L361.5,718.6Q360.4,718.0 359.4,718.6L356.8,720.1Q355.8,720.7 355.8,721.9L355.8,724.9Q355.8,726.1 356.8,726.7L359.4,728.2Q360.4,728.8 361.5,728.2L364.5,726.7Q365.2,726.3 365.9,726.7L372.0,730.3Q373.9,731.4 372.8,733.3L366.5,743.5Q365.4,745.4 363.5,744.3L342.8,732.5Q340.9,731.4 341.8,729.4L344.1,724.1Q344.4,723.4 344.1,722.7Z" fill="#cbb8ec" stroke="#000" stroke-width="1.5" stroke-linejoin="round"/>
<circle cx="376.8" cy="706" r="5.3" fill="url(#gK)"/>
<text transform="translate(376.8,706) rotate(0)" x="0" y="3.5" font-family="Liberation Sans, sans-serif" font-size="9.8" font-weight="bold" fill="#fff" text-anchor="middle">K</text>
<text transform="translate(386,709.5) rotate(0)" font-family="Liberation Sans, sans-serif" font-size="10" fill="#777" text-anchor="middle" font-weight="normal" font-style="normal" letter-spacing="0">+</text>
<line x1="379.5" y1="722.9" x2="399.8" y2="722.9" stroke="#000" stroke-width="2"/>
<polygon points="407.3,722.9 398.8,726.5 400.9,722.9 398.8,719.3" fill="#000"/>
<path d="M413.6,718.1Q412.7,716.1 414.6,715.0L435.3,703.2Q437.2,702.1 438.3,704.0L444.6,714.2Q445.7,716.1 443.8,717.2L437.7,720.8Q437.0,721.2 436.3,720.8L433.3,719.3Q432.2,718.7 431.2,719.3L428.6,720.8Q427.6,721.4 427.6,722.6L427.6,725.6Q427.6,726.8 428.6,727.4L431.2,728.9Q432.2,729.5 433.3,728.9L436.3,727.4Q437.0,727.0 437.7,727.4L443.8,731.0Q445.7,732.1 444.6,734.0L438.3,744.2Q437.2,746.1 435.3,745.0L414.6,733.2Q412.7,732.1 413.6,730.1L415.9,724.8Q416.2,724.1 415.9,723.4Z" fill="#cbb8ec" stroke="#000" stroke-width="1.5" stroke-linejoin="round"/>
<circle cx="447.7" cy="706" r="5.3" fill="url(#gK)"/>
<text transform="translate(447.7,706) rotate(0)" x="0" y="3.5" font-family="Liberation Sans, sans-serif" font-size="9.8" font-weight="bold" fill="#fff" text-anchor="middle">K</text>
<ellipse transform="translate(462,706.7) rotate(5)" rx="8.6" ry="6.2" fill="#f7e000" stroke="#222" stroke-width="1"/>
<text transform="translate(462,706.7) rotate(5)" x="0" y="3.5" font-family="Liberation Sans, sans-serif" font-size="9.6" fill="#111" text-anchor="middle">Ac</text>
<path d="M503.6,589.9Q501.6,589.2 502.1,587.1L507.5,563.9Q508.0,561.7 510.2,562.2L521.9,564.6Q524.1,565.1 523.6,567.2L522.0,574.1Q521.9,574.9 521.1,575.2L517.9,576.3Q516.8,576.7 516.5,577.9L515.8,580.8Q515.6,581.9 516.5,582.7L518.7,584.8Q519.5,585.6 520.7,585.3L523.5,584.4Q524.6,584.1 525.0,582.9L525.9,579.6Q526.1,578.9 526.9,578.6L533.6,576.6Q535.8,576.0 536.4,578.1L539.6,589.6Q540.2,591.7 538.1,592.4L515.4,599.5Q513.3,600.1 512.4,598.1L510.1,592.8Q509.8,592.1 509.0,591.8Z" fill="#cbb8ec" stroke="#000" stroke-width="1.5" stroke-linejoin="round"/>
<circle cx="517.1" cy="555.1" r="5.5" fill="url(#gK)"/>
<text transform="translate(517.1,555.1) rotate(20)" x="0" y="3.6" font-family="Liberation Sans, sans-serif" font-size="10.2" font-weight="bold" fill="#fff" text-anchor="middle">K</text>
<line x1="534.4" y1="564.3" x2="548.8" y2="550.2" stroke="#000" stroke-width="2"/>
<polygon points="554.2,545.0 550.6,553.5 549.6,549.4 545.6,548.4" fill="#000"/>
<path d="M554.6,537.3Q552.5,536.6 552.9,534.4L557.8,511.1Q558.2,509.0 560.4,509.4L572.2,511.5Q574.4,511.9 573.9,514.0L572.6,521.0Q572.4,521.8 571.7,522.1L568.5,523.3Q567.4,523.7 567.1,524.9L566.6,527.8Q566.3,529.0 567.2,529.8L569.5,531.7Q570.4,532.5 571.5,532.2L574.3,531.3Q575.4,530.9 575.7,529.7L576.6,526.4Q576.8,525.6 577.5,525.4L584.2,523.2Q586.3,522.5 587.0,524.6L590.5,536.0Q591.2,538.1 589.1,538.8L566.6,546.5Q564.5,547.2 563.5,545.2L561.1,540.0Q560.8,539.3 560.0,539.0Z" fill="#cbb8ec" stroke="#000" stroke-width="1.5" stroke-linejoin="round"/>
<circle cx="567.4" cy="502.5" r="5.5" fill="url(#gK)"/>
<text transform="translate(567.4,502.5) rotate(25)" x="0" y="3.6" font-family="Liberation Sans, sans-serif" font-size="10.2" font-weight="bold" fill="#fff" text-anchor="middle">K</text>
<ellipse transform="translate(579.2,493.7) rotate(-45)" rx="8" ry="6.5" fill="#f7e000" stroke="#222" stroke-width="1"/>
<text transform="translate(579.2,493.7) rotate(-45)" x="0" y="3.6" font-family="Liberation Sans, sans-serif" font-size="10.0" fill="#111" text-anchor="middle">Ac</text>
<ellipse transform="translate(597.4,487.8) rotate(-40)" rx="13.5" ry="11" fill="url(#gE)" stroke="#333" stroke-width="1"/>
<text transform="translate(600.5,491) rotate(-55)" font-family="Liberation Sans, sans-serif" font-size="11" fill="#111" text-anchor="middle" font-weight="normal" font-style="normal" letter-spacing="0">E</text>
<circle cx="597.4" cy="527.7" r="6.5" fill="#8c42ae"/>
<text transform="translate(600.0,528.0) rotate(-62)" font-family="Liberation Sans, sans-serif" font-size="7.6" fill="#fff" text-anchor="middle" font-weight="bold" font-style="normal" letter-spacing="0">Ub</text>
<path d="M603.3,501.3 C607.5,506 607.5,512 605.2,517" fill="none" stroke="#000" stroke-width="1.1" stroke-linecap="round"/>
<polygon points="604.3,519.5 604.2,513.5 605.8,515.7 608.5,515.3" fill="#000"/>
<line x1="592.0" y1="549.2" x2="608.4" y2="562.3" stroke="#000" stroke-width="1.7"/>
<polygon points="613.9,566.7 605.6,564.3 609.2,563.0 609.7,559.1" fill="#000"/>
<path d="M571.9,555.6 C572.5,568 581,576 592.5,576.6" fill="none" stroke="#000" stroke-width="1.5" stroke-linecap="round"/>
<polygon points="599.0,576.8 590.9,579.9 593.0,576.6 591.1,573.2" fill="#000"/>
<rect transform="translate(631.75,564.2) rotate(28.6)" x="-7.4" y="-1.6" width="14.8" height="3.2" rx="1.6" fill="#be8fd5" stroke="#1a1a1a" stroke-width="0.8"/>
<rect transform="translate(628,568.9) rotate(38.5)" x="-7.4" y="-1.6" width="14.8" height="3.2" rx="1.6" fill="#be8fd5" stroke="#1a1a1a" stroke-width="0.8"/>
<rect transform="translate(624.9,572.75) rotate(38.5)" x="-7.4" y="-1.6" width="14.8" height="3.2" rx="1.6" fill="#be8fd5" stroke="#1a1a1a" stroke-width="0.8"/>
<rect transform="translate(621.9,577) rotate(38.5)" x="-7.4" y="-1.6" width="14.8" height="3.2" rx="1.6" fill="#be8fd5" stroke="#1a1a1a" stroke-width="0.8"/>
<rect transform="translate(618.6,580.9) rotate(38.5)" x="-7.4" y="-1.6" width="14.8" height="3.2" rx="1.6" fill="#be8fd5" stroke="#1a1a1a" stroke-width="0.8"/>
<rect transform="translate(615.2,584.6) rotate(38.5)" x="-7.4" y="-1.6" width="14.8" height="3.2" rx="1.6" fill="#be8fd5" stroke="#1a1a1a" stroke-width="0.8"/>
<rect transform="translate(611.1,589.8) rotate(28.6)" x="-7.4" y="-1.6" width="14.8" height="3.2" rx="1.6" fill="#be8fd5" stroke="#1a1a1a" stroke-width="0.8"/>
<text transform="translate(647.5,545.6) rotate(35.5)" font-family="Liberation Sans, sans-serif" font-size="9.3" fill="#222" text-anchor="middle" font-weight="normal" font-style="normal" letter-spacing="0">Proteasome</text>
<path d="M644.6,564.3 C652,560.5 659,566 659.6,574.5" fill="none" stroke="#000" stroke-width="1.1" stroke-linecap="round"/>
<polygon points="659.9,580.4 657.3,574.7 659.7,576.1 662.1,574.5" fill="#000"/>
<polygon points="638.2,584.7 649.2,586.1 634,606 629.9,595 635.4,591.6" fill="#cbb8ec" stroke="#333" stroke-width="0.9" stroke-linejoin="round"/>
<polygon points="655.4,587.4 666.4,588.8 665,601.9 657.4,602.6 653.3,596.4" fill="#cbb8ec" stroke="#333" stroke-width="0.9" stroke-linejoin="round"/>
<polygon points="636.1,611.5 644.4,607.4 652.6,615 641.6,622.5 637.5,619.1" fill="#cbb8ec" stroke="#333" stroke-width="0.9" stroke-linejoin="round"/>
<polygon points="645,597.7 648.5,597.1 644.4,602.6" fill="#cbb8ec" stroke="#333" stroke-width="0.9" stroke-linejoin="round"/>
<path d="M321.5,390 C316,392.5 313.5,396 314,399.5 S311.5,404 309,406" fill="none" stroke="#8a6650" stroke-width="1.8" stroke-linecap="round"/>
<path d="M325.5,401.5 C320,404 318.5,407 319,409.5 S317,413.5 314.3,415" fill="none" stroke="#8a6650" stroke-width="1.8" stroke-linecap="round"/>
<path d="M332,409 C327,411.5 325.5,414.5 326,417 S324,421 321,422.3" fill="none" stroke="#8a6650" stroke-width="1.8" stroke-linecap="round"/>
<path d="M342,415 C338.5,418 337,421 337.3,424 S335.5,428.5 333,430.6" fill="none" stroke="#8a6650" stroke-width="1.8" stroke-linecap="round"/>
<g transform="translate(363.6,376.0) rotate(-38.7)">
<rect x="-44" y="-24.5" width="88" height="49" rx="21" fill="#fbf3ec" stroke="#8a6650" stroke-width="3.2"/>
<rect x="-19.9" y="1.8" width="1" height="1" fill="#c7c2e8"/><rect x="31.6" y="-1.0" width="1" height="1" fill="#f5d9a8"/><rect x="25.6" y="-9.6" width="1" height="1" fill="#e9b7c9"/><rect x="-23.4" y="8.7" width="1" height="1" fill="#f5d9a8"/><rect x="25.6" y="-0.9" width="1" height="1" fill="#e8a0a0"/><rect x="27.4" y="-10.7" width="1" height="1" fill="#e9b7c9"/><rect x="28.0" y="0.9" width="1" height="1" fill="#e8a0a0"/><rect x="-36.8" y="11.1" width="1" height="1" fill="#e9b7c9"/><rect x="19.6" y="3.6" width="1" height="1" fill="#c7c2e8"/><rect x="21.3" y="12.9" width="1" height="1" fill="#c7c2e8"/><rect x="-2.1" y="8.8" width="1" height="1" fill="#bfe0d0"/><rect x="16.3" y="16.8" width="1" height="1" fill="#bfe0d0"/><rect x="17.3" y="3.1" width="1" height="1" fill="#e9b7c9"/><rect x="28.8" y="-16.1" width="1" height="1" fill="#e9b7c9"/><rect x="-0.4" y="-9.7" width="1" height="1" fill="#e8a0a0"/><rect x="-4.9" y="5.1" width="1" height="1" fill="#c7c2e8"/><rect x="-6.0" y="13.3" width="1" height="1" fill="#f5d9a8"/><rect x="-11.3" y="3.4" width="1" height="1" fill="#f5d9a8"/><rect x="-20.3" y="-6.5" width="1" height="1" fill="#f2c9a0"/><rect x="13.0" y="-13.5" width="1" height="1" fill="#b0c8ea"/><rect x="-13.2" y="1.7" width="1" height="1" fill="#f5d9a8"/><rect x="5.3" y="8.6" width="1" height="1" fill="#e9b7c9"/><rect x="10.1" y="19.5" width="1" height="1" fill="#c7c2e8"/><rect x="-16.3" y="-17.5" width="1" height="1" fill="#b0c8ea"/><rect x="10.5" y="-0.7" width="1" height="1" fill="#c7c2e8"/><rect x="22.8" y="-3.6" width="1" height="1" fill="#e9b7c9"/><rect x="-36.5" y="-2.9" width="1" height="1" fill="#bfe0d0"/><rect x="8.7" y="-18.2" width="1" height="1" fill="#e8a0a0"/><rect x="6.6" y="2.0" width="1" height="1" fill="#c7c2e8"/><rect x="0.4" y="19.9" width="1" height="1" fill="#c7c2e8"/><rect x="2.7" y="18.0" width="1" height="1" fill="#bfe0d0"/><rect x="-15.8" y="-9.5" width="1" height="1" fill="#e8a0a0"/><rect x="-14.1" y="18.3" width="1" height="1" fill="#b0c8ea"/><rect x="-9.3" y="-1.6" width="1" height="1" fill="#f5d9a8"/><rect x="-8.6" y="14.7" width="1" height="1" fill="#e8a0a0"/><rect x="4.5" y="4.8" width="1" height="1" fill="#b0c8ea"/><rect x="0.5" y="-2.8" width="1" height="1" fill="#e8a0a0"/><rect x="16.4" y="17.5" width="1" height="1" fill="#bfe0d0"/><rect x="36.3" y="0.8" width="1" height="1" fill="#f5d9a8"/><rect x="-12.2" y="11.5" width="1" height="1" fill="#f5d9a8"/><rect x="-14.1" y="-4.9" width="1" height="1" fill="#f5d9a8"/><rect x="10.0" y="-17.6" width="1" height="1" fill="#e8a0a0"/><rect x="-12.7" y="-5.9" width="1" height="1" fill="#c7c2e8"/><rect x="8.3" y="-8.8" width="1" height="1" fill="#bfe0d0"/><rect x="13.4" y="18.5" width="1" height="1" fill="#c7c2e8"/><rect x="9.7" y="-8.1" width="1" height="1" fill="#f5d9a8"/><rect x="-13.7" y="-5.4" width="1" height="1" fill="#c7c2e8"/><rect x="19.6" y="13.8" width="1" height="1" fill="#c7c2e8"/><rect x="-15.2" y="-4.9" width="1" height="1" fill="#b0c8ea"/><rect x="23.8" y="18.9" width="1" height="1" fill="#e8a0a0"/><rect x="17.9" y="-7.6" width="1" height="1" fill="#e9b7c9"/><rect x="11.7" y="-9.2" width="1" height="1" fill="#c7c2e8"/><rect x="-23.8" y="-2.6" width="1" height="1" fill="#e8a0a0"/><rect x="-30.6" y="4.0" width="1" height="1" fill="#c7c2e8"/><rect x="13.3" y="-11.0" width="1" height="1" fill="#b0c8ea"/><rect x="27.0" y="-13.2" width="1" height="1" fill="#c7c2e8"/><rect x="18.4" y="-11.3" width="1" height="1" fill="#f5d9a8"/><rect x="-3.7" y="-11.0" width="1" height="1" fill="#f2c9a0"/><rect x="-14.0" y="13.4" width="1" height="1" fill="#f5d9a8"/><rect x="-24.0" y="-8.9" width="1" height="1" fill="#b0c8ea"/><rect x="24.9" y="-16.6" width="1" height="1" fill="#f5d9a8"/><rect x="-11.8" y="-14.8" width="1" height="1" fill="#c7c2e8"/><rect x="1.4" y="14.0" width="1" height="1" fill="#bfe0d0"/><rect x="-11.7" y="-3.3" width="1" height="1" fill="#bfe0d0"/><rect x="5.2" y="-18.6" width="1" height="1" fill="#bfe0d0"/><rect x="37.0" y="-2.6" width="1" height="1" fill="#e8a0a0"/><rect x="-21.1" y="9.8" width="1" height="1" fill="#b0c8ea"/><rect x="19.3" y="9.9" width="1" height="1" fill="#c7c2e8"/><rect x="3.3" y="15.6" width="1" height="1" fill="#b0c8ea"/><rect x="-32.8" y="3.5" width="1" height="1" fill="#c7c2e8"/><rect x="-28.9" y="-10.2" width="1" height="1" fill="#f2c9a0"/><rect x="30.7" y="7.7" width="1" height="1" fill="#e9b7c9"/><rect x="30.1" y="16.0" width="1" height="1" fill="#f5d9a8"/><rect x="-34.2" y="-0.8" width="1" height="1" fill="#f2c9a0"/><rect x="-24.9" y="-8.0" width="1" height="1" fill="#e8a0a0"/><rect x="-36.5" y="1.5" width="1" height="1" fill="#f2c9a0"/><rect x="33.4" y="4.5" width="1" height="1" fill="#c7c2e8"/><rect x="3.1" y="12.5" width="1" height="1" fill="#f2c9a0"/><rect x="-11.3" y="-12.1" width="1" height="1" fill="#f5d9a8"/><rect x="29.5" y="-15.2" width="1" height="1" fill="#e9b7c9"/><rect x="22.2" y="16.9" width="1" height="1" fill="#b0c8ea"/><rect x="-28.2" y="16.8" width="1" height="1" fill="#bfe0d0"/><rect x="9.8" y="14.5" width="1" height="1" fill="#f2c9a0"/><rect x="19.5" y="-10.1" width="1" height="1" fill="#f5d9a8"/><rect x="2.1" y="-3.1" width="1" height="1" fill="#bfe0d0"/><rect x="-13.4" y="12.8" width="1" height="1" fill="#b0c8ea"/><rect x="-28.5" y="-17.3" width="1" height="1" fill="#f2c9a0"/><rect x="26.9" y="-16.6" width="1" height="1" fill="#f5d9a8"/><rect x="-0.8" y="-13.7" width="1" height="1" fill="#f2c9a0"/><rect x="-11.3" y="5.9" width="1" height="1" fill="#f5d9a8"/><rect x="-14.9" y="-9.4" width="1" height="1" fill="#c7c2e8"/><rect x="-5.4" y="-14.9" width="1" height="1" fill="#f2c9a0"/><rect x="16.4" y="-4.8" width="1" height="1" fill="#f2c9a0"/><rect x="5.1" y="-18.3" width="1" height="1" fill="#bfe0d0"/><rect x="7.9" y="11.3" width="1" height="1" fill="#bfe0d0"/><rect x="10.4" y="-18.3" width="1" height="1" fill="#bfe0d0"/><rect x="-34.0" y="5.1" width="1" height="1" fill="#b0c8ea"/><rect x="15.4" y="-3.2" width="1" height="1" fill="#e8a0a0"/><rect x="-6.2" y="-19.3" width="1" height="1" fill="#e9b7c9"/><rect x="2.7" y="7.8" width="1" height="1" fill="#f2c9a0"/><rect x="23.0" y="-11.0" width="1" height="1" fill="#e9b7c9"/><rect x="28.9" y="17.5" width="1" height="1" fill="#c7c2e8"/><rect x="35.6" y="2.4" width="1" height="1" fill="#b0c8ea"/><rect x="-18.1" y="-1.4" width="1" height="1" fill="#f2c9a0"/><rect x="33.4" y="9.3" width="1" height="1" fill="#b0c8ea"/><rect x="29.4" y="11.7" width="1" height="1" fill="#e8a0a0"/><rect x="-29.7" y="-7.3" width="1" height="1" fill="#f5d9a8"/><rect x="-30.2" y="3.5" width="1" height="1" fill="#f2c9a0"/><rect x="-2.0" y="-10.6" width="1" height="1" fill="#bfe0d0"/><rect x="-30.5" y="15.2" width="1" height="1" fill="#e9b7c9"/><rect x="24.3" y="-6.3" width="1" height="1" fill="#b0c8ea"/><rect x="-28.8" y="13.8" width="1" height="1" fill="#e8a0a0"/><rect x="-1.4" y="7.9" width="1" height="1" fill="#c7c2e8"/><rect x="6.0" y="11.9" width="1" height="1" fill="#f2c9a0"/><rect x="37.7" y="2.5" width="1" height="1" fill="#f5d9a8"/><rect x="16.4" y="-15.7" width="1" height="1" fill="#e8a0a0"/><rect x="-30.4" y="2.1" width="1" height="1" fill="#f5d9a8"/><rect x="-13.4" y="2.6" width="1" height="1" fill="#b0c8ea"/><rect x="11.1" y="-1.8" width="1" height="1" fill="#e8a0a0"/><rect x="19.3" y="-4.3" width="1" height="1" fill="#c7c2e8"/><rect x="7.6" y="17.6" width="1" height="1" fill="#f5d9a8"/><rect x="-6.2" y="-16.7" width="1" height="1" fill="#f5d9a8"/><rect x="-20.1" y="17.2" width="1" height="1" fill="#b0c8ea"/><rect x="18.8" y="-13.6" width="1" height="1" fill="#e8a0a0"/><rect x="5.2" y="3.2" width="1" height="1" fill="#f5d9a8"/><rect x="14.1" y="-13.8" width="1" height="1" fill="#bfe0d0"/><rect x="30.2" y="-14.0" width="1" height="1" fill="#f2c9a0"/><rect x="-0.2" y="-0.7" width="1" height="1" fill="#e8a0a0"/><rect x="1.3" y="-2.3" width="1" height="1" fill="#e8a0a0"/><rect x="27.2" y="-14.5" width="1" height="1" fill="#b0c8ea"/><rect x="-22.9" y="3.4" width="1" height="1" fill="#c7c2e8"/><rect x="33.0" y="14.1" width="1" height="1" fill="#f5d9a8"/><rect x="34.5" y="-8.2" width="1" height="1" fill="#e8a0a0"/><rect x="27.0" y="3.8" width="1" height="1" fill="#f5d9a8"/><rect x="6.4" y="-9.3" width="1" height="1" fill="#e9b7c9"/><rect x="-14.7" y="-9.3" width="1" height="1" fill="#b0c8ea"/><rect x="-8.9" y="-13.1" width="1" height="1" fill="#c7c2e8"/><rect x="-19.8" y="-0.7" width="1" height="1" fill="#b0c8ea"/><rect x="-1.6" y="4.0" width="1" height="1" fill="#bfe0d0"/><rect x="6.1" y="16.1" width="1" height="1" fill="#e8a0a0"/><rect x="4.3" y="-0.7" width="1" height="1" fill="#e8a0a0"/><rect x="21.5" y="15.3" width="1" height="1" fill="#f2c9a0"/><rect x="-2.5" y="-10.8" width="1" height="1" fill="#e9b7c9"/><rect x="11.3" y="11.1" width="1" height="1" fill="#f2c9a0"/><rect x="-19.6" y="-12.4" width="1" height="1" fill="#c7c2e8"/><rect x="-27.6" y="4.9" width="1" height="1" fill="#e8a0a0"/><rect x="27.3" y="16.0" width="1" height="1" fill="#c7c2e8"/><rect x="-25.1" y="-18.2" width="1" height="1" fill="#e9b7c9"/><rect x="-5.8" y="9.2" width="1" height="1" fill="#f2c9a0"/><rect x="-29.0" y="-9.4" width="1" height="1" fill="#c7c2e8"/><rect x="-35.3" y="-1.9" width="1" height="1" fill="#e8a0a0"/><rect x="13.3" y="-19.7" width="1" height="1" fill="#c7c2e8"/><rect x="-12.8" y="-4.8" width="1" height="1" fill="#f2c9a0"/><rect x="-22.0" y="3.4" width="1" height="1" fill="#bfe0d0"/><rect x="-8.3" y="1.8" width="1" height="1" fill="#f2c9a0"/><rect x="29.1" y="-17.0" width="1" height="1" fill="#bfe0d0"/><rect x="-29.4" y="15.5" width="1" height="1" fill="#c7c2e8"/><rect x="-9.6" y="10.9" width="1" height="1" fill="#b0c8ea"/><rect x="-3.8" y="6.5" width="1" height="1" fill="#e8a0a0"/><rect x="11.7" y="12.2" width="1" height="1" fill="#c7c2e8"/><rect x="-12.3" y="2.6" width="1" height="1" fill="#f5d9a8"/><rect x="-29.4" y="-0.2" width="1" height="1" fill="#c7c2e8"/><rect x="-33.5" y="-8.2" width="1" height="1" fill="#e8a0a0"/><rect x="5.0" y="-12.7" width="1" height="1" fill="#e8a0a0"/><rect x="17.5" y="-14.0" width="1" height="1" fill="#c7c2e8"/><rect x="29.6" y="6.2" width="1" height="1" fill="#f2c9a0"/><rect x="-29.8" y="2.4" width="1" height="1" fill="#c7c2e8"/><rect x="11.0" y="6.0" width="1" height="1" fill="#bfe0d0"/><rect x="4.2" y="5.9" width="1" height="1" fill="#bfe0d0"/><rect x="-1.3" y="11.3" width="1" height="1" fill="#e8a0a0"/><rect x="-32.8" y="8.6" width="1" height="1" fill="#b0c8ea"/><rect x="4.1" y="3.0" width="1" height="1" fill="#bfe0d0"/><rect x="-10.7" y="-9.4" width="1" height="1" fill="#bfe0d0"/><rect x="-33.9" y="-14.5" width="1" height="1" fill="#bfe0d0"/><rect x="0.4" y="-10.1" width="1" height="1" fill="#b0c8ea"/><rect x="1.1" y="15.0" width="1" height="1" fill="#bfe0d0"/><rect x="-3.9" y="12.4" width="1" height="1" fill="#f2c9a0"/><rect x="-11.2" y="13.9" width="1" height="1" fill="#f2c9a0"/><rect x="-26.5" y="3.6" width="1" height="1" fill="#e8a0a0"/><rect x="-29.4" y="11.2" width="1" height="1" fill="#e8a0a0"/><rect x="-29.5" y="7.9" width="1" height="1" fill="#f5d9a8"/><rect x="-6.3" y="9.7" width="1" height="1" fill="#b0c8ea"/><rect x="8.2" y="14.4" width="1" height="1" fill="#b0c8ea"/><rect x="-23.3" y="1.1" width="1" height="1" fill="#f5d9a8"/><rect x="-24.4" y="14.7" width="1" height="1" fill="#c7c2e8"/><rect x="21.4" y="-18.8" width="1" height="1" fill="#b0c8ea"/><rect x="-4.2" y="-3.7" width="1" height="1" fill="#b0c8ea"/><rect x="-8.9" y="2.1" width="1" height="1" fill="#f5d9a8"/><rect x="-14.5" y="-0.1" width="1" height="1" fill="#f5d9a8"/><rect x="14.2" y="-8.0" width="1" height="1" fill="#b0c8ea"/><rect x="12.7" y="-18.8" width="1" height="1" fill="#e9b7c9"/><rect x="17.2" y="-19.9" width="1" height="1" fill="#b0c8ea"/><rect x="19.5" y="-10.6" width="1" height="1" fill="#e9b7c9"/><rect x="1.8" y="-1.6" width="1" height="1" fill="#e9b7c9"/><rect x="21.4" y="-11.5" width="1" height="1" fill="#b0c8ea"/><rect x="0.0" y="5.8" width="1" height="1" fill="#bfe0d0"/><rect x="-29.5" y="-8.7" width="1" height="1" fill="#e8a0a0"/><rect x="29.8" y="-14.6" width="1" height="1" fill="#b0c8ea"/><rect x="-36.1" y="4.7" width="1" height="1" fill="#f5d9a8"/><rect x="-32.1" y="1.6" width="1" height="1" fill="#c7c2e8"/><rect x="-13.4" y="14.8" width="1" height="1" fill="#e8a0a0"/><rect x="14.7" y="-16.8" width="1" height="1" fill="#b0c8ea"/><rect x="7.7" y="17.1" width="1" height="1" fill="#e8a0a0"/><rect x="-33.2" y="-12.0" width="1" height="1" fill="#e8a0a0"/><rect x="19.5" y="-0.6" width="1" height="1" fill="#f2c9a0"/><rect x="21.8" y="-3.7" width="1" height="1" fill="#b0c8ea"/><rect x="-22.8" y="-13.6" width="1" height="1" fill="#bfe0d0"/><rect x="-2.0" y="-17.3" width="1" height="1" fill="#b0c8ea"/><rect x="-5.9" y="6.0" width="1" height="1" fill="#c7c2e8"/><rect x="-36.2" y="-1.7" width="1" height="1" fill="#e8a0a0"/><rect x="-7.5" y="-12.8" width="1" height="1" fill="#f2c9a0"/><rect x="16.7" y="-5.3" width="1" height="1" fill="#c7c2e8"/><rect x="-4.0" y="-5.5" width="1" height="1" fill="#bfe0d0"/><rect x="-21.0" y="-19.9" width="1" height="1" fill="#e9b7c9"/><rect x="-18.3" y="-5.2" width="1" height="1" fill="#b0c8ea"/><rect x="-3.0" y="-12.2" width="1" height="1" fill="#e9b7c9"/><rect x="-36.3" y="3.4" width="1" height="1" fill="#f5d9a8"/><rect x="-29.6" y="-13.3" width="1" height="1" fill="#bfe0d0"/><rect x="-24.0" y="13.7" width="1" height="1" fill="#bfe0d0"/><rect x="-4.0" y="-3.7" width="1" height="1" fill="#e8a0a0"/><rect x="16.3" y="-10.4" width="1" height="1" fill="#f2c9a0"/><rect x="-7.9" y="-18.9" width="1" height="1" fill="#e9b7c9"/><rect x="-19.6" y="-4.4" width="1" height="1" fill="#e9b7c9"/><rect x="-25.5" y="4.9" width="1" height="1" fill="#c7c2e8"/><rect x="31.4" y="3.8" width="1" height="1" fill="#b0c8ea"/><rect x="17.3" y="-9.0" width="1" height="1" fill="#b0c8ea"/><rect x="33.6" y="11.6" width="1" height="1" fill="#c7c2e8"/><rect x="-0.9" y="2.4" width="1" height="1" fill="#f2c9a0"/><rect x="23.9" y="5.2" width="1" height="1" fill="#c7c2e8"/><rect x="-13.9" y="-17.7" width="1" height="1" fill="#bfe0d0"/><rect x="35.7" y="3.7" width="1" height="1" fill="#f2c9a0"/><rect x="-30.0" y="7.2" width="1" height="1" fill="#f2c9a0"/><rect x="-25.1" y="-18.5" width="1" height="1" fill="#f2c9a0"/><rect x="-23.6" y="0.4" width="1" height="1" fill="#c7c2e8"/><rect x="-22.7" y="19.0" width="1" height="1" fill="#bfe0d0"/><rect x="-12.2" y="-0.9" width="1" height="1" fill="#c7c2e8"/><rect x="-14.8" y="4.3" width="1" height="1" fill="#bfe0d0"/><rect x="-31.3" y="-8.3" width="1" height="1" fill="#b0c8ea"/><rect x="-6.6" y="0.3" width="1" height="1" fill="#f5d9a8"/><rect x="-12.6" y="7.2" width="1" height="1" fill="#bfe0d0"/><rect x="-24.7" y="9.6" width="1" height="1" fill="#e8a0a0"/><rect x="-8.7" y="17.5" width="1" height="1" fill="#c7c2e8"/><rect x="32.2" y="-5.5" width="1" height="1" fill="#bfe0d0"/><rect x="-4.7" y="-2.2" width="1" height="1" fill="#e8a0a0"/><rect x="-1.5" y="-9.2" width="1" height="1" fill="#e9b7c9"/><rect x="0.5" y="10.1" width="1" height="1" fill="#e8a0a0"/><rect x="15.0" y="18.0" width="1" height="1" fill="#f2c9a0"/><rect x="-26.3" y="8.4" width="1" height="1" fill="#f2c9a0"/><rect x="24.5" y="-16.3" width="1" height="1" fill="#e8a0a0"/><rect x="13.5" y="-16.1" width="1" height="1" fill="#e9b7c9"/><rect x="7.7" y="12.1" width="1" height="1" fill="#f2c9a0"/><rect x="28.8" y="14.9" width="1" height="1" fill="#bfe0d0"/><rect x="-2.5" y="14.8" width="1" height="1" fill="#e8a0a0"/><rect x="-12.6" y="-5.2" width="1" height="1" fill="#f2c9a0"/><rect x="-23.2" y="11.5" width="1" height="1" fill="#f2c9a0"/><rect x="-12.3" y="-7.5" width="1" height="1" fill="#bfe0d0"/><rect x="-31.9" y="6.0" width="1" height="1" fill="#e9b7c9"/><rect x="14.3" y="19.1" width="1" height="1" fill="#e8a0a0"/><rect x="-29.5" y="-8.5" width="1" height="1" fill="#e9b7c9"/><rect x="-21.3" y="2.5" width="1" height="1" fill="#bfe0d0"/><rect x="0.4" y="16.3" width="1" height="1" fill="#c7c2e8"/><rect x="21.9" y="1.4" width="1" height="1" fill="#e9b7c9"/><rect x="-2.5" y="4.9" width="1" height="1" fill="#f2c9a0"/><rect x="24.7" y="-15.5" width="1" height="1" fill="#f2c9a0"/><rect x="27.3" y="-15.9" width="1" height="1" fill="#c7c2e8"/><rect x="-31.5" y="-1.4" width="1" height="1" fill="#e9b7c9"/><rect x="24.7" y="7.2" width="1" height="1" fill="#f2c9a0"/><rect x="10.8" y="10.5" width="1" height="1" fill="#b0c8ea"/><rect x="15.2" y="-3.9" width="1" height="1" fill="#e8a0a0"/><rect x="-4.1" y="-15.6" width="1" height="1" fill="#b0c8ea"/><rect x="33.8" y="-2.3" width="1" height="1" fill="#bfe0d0"/><rect x="-22.3" y="1.6" width="1" height="1" fill="#bfe0d0"/><rect x="-15.3" y="5.7" width="1" height="1" fill="#c7c2e8"/><rect x="-11.7" y="-0.6" width="1" height="1" fill="#f2c9a0"/><rect x="32.2" y="7.5" width="1" height="1" fill="#c7c2e8"/><rect x="-5.9" y="5.9" width="1" height="1" fill="#f5d9a8"/><rect x="1.4" y="-10.0" width="1" height="1" fill="#b0c8ea"/><rect x="37.7" y="-6.6" width="1" height="1" fill="#bfe0d0"/><rect x="-4.6" y="-10.0" width="1" height="1" fill="#c7c2e8"/><rect x="-25.4" y="17.2" width="1" height="1" fill="#e8a0a0"/><rect x="-21.4" y="15.0" width="1" height="1" fill="#e8a0a0"/><rect x="8.5" y="17.3" width="1" height="1" fill="#f5d9a8"/><rect x="26.8" y="-5.3" width="1" height="1" fill="#e9b7c9"/><rect x="-1.2" y="10.9" width="1" height="1" fill="#bfe0d0"/><rect x="-2.3" y="3.5" width="1" height="1" fill="#f2c9a0"/><rect x="-15.8" y="17.4" width="1" height="1" fill="#e9b7c9"/><rect x="-26.5" y="0.1" width="1" height="1" fill="#f2c9a0"/><rect x="10.6" y="-18.4" width="1" height="1" fill="#e8a0a0"/><rect x="-22.2" y="-0.3" width="1" height="1" fill="#f2c9a0"/><rect x="-11.8" y="9.7" width="1" height="1" fill="#e8a0a0"/><rect x="21.4" y="-14.3" width="1" height="1" fill="#bfe0d0"/><rect x="-15.3" y="-3.6" width="1" height="1" fill="#f2c9a0"/><rect x="-22.4" y="-0.5" width="1" height="1" fill="#b0c8ea"/><rect x="15.2" y="19.1" width="1" height="1" fill="#b0c8ea"/><rect x="28.6" y="-5.1" width="1" height="1" fill="#e9b7c9"/><rect x="-5.2" y="17.6" width="1" height="1" fill="#bfe0d0"/><rect x="2.0" y="1.7" width="1" height="1" fill="#c7c2e8"/><rect x="34.7" y="-8.5" width="1" height="1" fill="#f2c9a0"/><rect x="-2.8" y="15.5" width="1" height="1" fill="#b0c8ea"/><rect x="25.1" y="9.9" width="1" height="1" fill="#b0c8ea"/><rect x="1.5" y="-19.4" width="1" height="1" fill="#e8a0a0"/><rect x="2.3" y="1.4" width="1" height="1" fill="#e9b7c9"/><rect x="36.8" y="11.7" width="1" height="1" fill="#c7c2e8"/><rect x="36.4" y="11.4" width="1" height="1" fill="#f5d9a8"/><rect x="-35.3" y="-12.6" width="1" height="1" fill="#f2c9a0"/><rect x="-17.0" y="16.2" width="1" height="1" fill="#b0c8ea"/><rect x="-34.1" y="1.8" width="1" height="1" fill="#f2c9a0"/><rect x="-3.8" y="-9.5" width="1" height="1" fill="#e8a0a0"/><rect x="23.0" y="-3.3" width="1" height="1" fill="#c7c2e8"/><rect x="-12.2" y="-18.8" width="1" height="1" fill="#f2c9a0"/><rect x="9.7" y="7.0" width="1" height="1" fill="#b0c8ea"/><rect x="23.5" y="-10.1" width="1" height="1" fill="#e9b7c9"/><rect x="18.5" y="13.7" width="1" height="1" fill="#bfe0d0"/><rect x="0.7" y="13.2" width="1" height="1" fill="#f5d9a8"/><rect x="-34.6" y="-0.6" width="1" height="1" fill="#f2c9a0"/><rect x="30.2" y="16.2" width="1" height="1" fill="#bfe0d0"/><rect x="1.6" y="10.2" width="1" height="1" fill="#b0c8ea"/><rect x="23.9" y="4.1" width="1" height="1" fill="#bfe0d0"/><rect x="-9.8" y="5.3" width="1" height="1" fill="#c7c2e8"/><rect x="-24.1" y="7.4" width="1" height="1" fill="#b0c8ea"/><rect x="3.6" y="-3.7" width="1" height="1" fill="#c7c2e8"/><rect x="-4.2" y="-8.9" width="1" height="1" fill="#c7c2e8"/><rect x="-3.6" y="18.4" width="1" height="1" fill="#e9b7c9"/><rect x="5.9" y="-14.4" width="1" height="1" fill="#f2c9a0"/><rect x="-6.7" y="14.0" width="1" height="1" fill="#b0c8ea"/><rect x="-3.1" y="3.4" width="1" height="1" fill="#c7c2e8"/><rect x="-35.7" y="3.0" width="1" height="1" fill="#f5d9a8"/><rect x="-29.2" y="-15.0" width="1" height="1" fill="#b0c8ea"/><rect x="15.9" y="16.5" width="1" height="1" fill="#f2c9a0"/><rect x="-4.9" y="-17.0" width="1" height="1" fill="#f2c9a0"/><rect x="1.1" y="15.8" width="1" height="1" fill="#b0c8ea"/><rect x="10.9" y="-12.2" width="1" height="1" fill="#c7c2e8"/><rect x="-24.2" y="-4.7" width="1" height="1" fill="#b0c8ea"/><rect x="-7.9" y="-18.0" width="1" height="1" fill="#e9b7c9"/><rect x="-13.9" y="-4.3" width="1" height="1" fill="#c7c2e8"/><rect x="-35.3" y="-3.3" width="1" height="1" fill="#bfe0d0"/><rect x="-20.5" y="-12.0" width="1" height="1" fill="#f2c9a0"/><rect x="15.1" y="-15.4" width="1" height="1" fill="#e8a0a0"/><rect x="25.7" y="5.2" width="1" height="1" fill="#b0c8ea"/><rect x="28.9" y="17.7" width="1" height="1" fill="#e8a0a0"/><rect x="-32.7" y="-9.3" width="1" height="1" fill="#bfe0d0"/><rect x="-2.9" y="-8.4" width="1" height="1" fill="#f5d9a8"/><rect x="-34.4" y="-10.6" width="1" height="1" fill="#e9b7c9"/><rect x="-27.0" y="16.2" width="1" height="1" fill="#e9b7c9"/><rect x="14.4" y="-1.3" width="1" height="1" fill="#bfe0d0"/><rect x="11.2" y="-14.3" width="1" height="1" fill="#f2c9a0"/><rect x="-24.3" y="5.1" width="1" height="1" fill="#c7c2e8"/><rect x="-23.6" y="12.9" width="1" height="1" fill="#b0c8ea"/><rect x="-26.8" y="1.0" width="1" height="1" fill="#e9b7c9"/><rect x="2.6" y="-4.7" width="1" height="1" fill="#f2c9a0"/><rect x="-5.1" y="-12.7" width="1" height="1" fill="#f2c9a0"/><rect x="-16.7" y="-14.7" width="1" height="1" fill="#e9b7c9"/><rect x="-15.6" y="-4.7" width="1" height="1" fill="#f5d9a8"/><rect x="-32.2" y="-12.3" width="1" height="1" fill="#c7c2e8"/><rect x="-19.3" y="-5.8" width="1" height="1" fill="#bfe0d0"/><rect x="-30.1" y="13.9" width="1" height="1" fill="#bfe0d0"/><rect x="-36.4" y="-6.2" width="1" height="1" fill="#e8a0a0"/><rect x="26.9" y="-2.3" width="1" height="1" fill="#bfe0d0"/><rect x="-2.7" y="1.5" width="1" height="1" fill="#bfe0d0"/><rect x="-26.7" y="-1.8" width="1" height="1" fill="#bfe0d0"/><rect x="-22.8" y="3.8" width="1" height="1" fill="#e8a0a0"/><rect x="26.5" y="-12.8" width="1" height="1" fill="#b0c8ea"/><rect x="25.8" y="-13.3" width="1" height="1" fill="#c7c2e8"/><rect x="25.8" y="-14.8" width="1" height="1" fill="#f5d9a8"/><rect x="36.4" y="-3.6" width="1" height="1" fill="#b0c8ea"/><rect x="-24.5" y="2.9" width="1" height="1" fill="#e9b7c9"/><rect x="28.1" y="11.8" width="1" height="1" fill="#f5d9a8"/><rect x="14.1" y="1.0" width="1" height="1" fill="#b0c8ea"/><rect x="-17.1" y="-1.5" width="1" height="1" fill="#f5d9a8"/><rect x="-4.5" y="-14.1" width="1" height="1" fill="#f5d9a8"/><rect x="-21.4" y="-1.8" width="1" height="1" fill="#f5d9a8"/><rect x="-9.6" y="-7.3" width="1" height="1" fill="#c7c2e8"/><rect x="15.4" y="10.8" width="1" height="1" fill="#e8a0a0"/><rect x="33.1" y="14.5" width="1" height="1" fill="#b0c8ea"/><rect x="-12.1" y="19.0" width="1" height="1" fill="#c7c2e8"/><rect x="-17.5" y="-15.1" width="1" height="1" fill="#f5d9a8"/><rect x="-21.2" y="19.8" width="1" height="1" fill="#e8a0a0"/><rect x="11.0" y="-8.7" width="1" height="1" fill="#c7c2e8"/><rect x="-3.6" y="-0.9" width="1" height="1" fill="#f5d9a8"/><rect x="21.9" y="-13.0" width="1" height="1" fill="#f5d9a8"/><rect x="2.2" y="-2.3" width="1" height="1" fill="#f5d9a8"/><rect x="-34.1" y="-3.3" width="1" height="1" fill="#f5d9a8"/><rect x="26.4" y="11.1" width="1" height="1" fill="#f2c9a0"/><rect x="-20.0" y="-4.7" width="1" height="1" fill="#e9b7c9"/><rect x="36.6" y="-5.3" width="1" height="1" fill="#e9b7c9"/><rect x="-33.8" y="-0.2" width="1" height="1" fill="#f2c9a0"/><rect x="-5.2" y="14.7" width="1" height="1" fill="#e8a0a0"/><rect x="4.6" y="-19.5" width="1" height="1" fill="#c7c2e8"/>
</g>
<path d="M377.0,354.4L378.4,354.7L378.4,355.9L377.0,356.2L376.8,357.2L378.0,358.0L377.5,359.2L376.1,358.9L375.5,359.8L376.3,360.9L375.4,361.8L374.3,361.0L373.4,361.6L373.7,363.0L372.5,363.5L371.7,362.3L370.7,362.5L370.4,363.9L369.2,363.9L368.9,362.5L367.9,362.3L367.1,363.5L365.9,363.0L366.2,361.6L365.3,361.0L364.2,361.8L363.3,360.9L364.1,359.8L363.5,358.9L362.1,359.2L361.6,358.0L362.8,357.2L362.6,356.2L361.2,355.9L361.2,354.7L362.6,354.4L362.8,353.4L361.6,352.6L362.1,351.4L363.5,351.7L364.1,350.8L363.3,349.7L364.2,348.8L365.3,349.6L366.2,349.0L365.9,347.6L367.1,347.1L367.9,348.3L368.9,348.1L369.2,346.7L370.4,346.7L370.7,348.1L371.7,348.3L372.5,347.1L373.7,347.6L373.4,349.0L374.3,349.6L375.4,348.8L376.3,349.7L375.5,350.8L376.1,351.7L377.5,351.4L378.0,352.6L376.8,353.4Z" fill="#c8655c" />
<circle cx="369.8" cy="355.3" r="5.6" fill="#e3a39b"/>
<circle cx="369.8" cy="355.3" r="3.9" fill="none" stroke="#fff" stroke-width="1.6" stroke-dasharray="2.2 1.2" opacity="0.85"/>
<circle cx="369.8" cy="355.3" r="1.6" fill="#fff" opacity="0.8"/>
<path d="M389.1,371.7L390.5,372.0L390.5,373.2L389.1,373.5L388.9,374.5L390.1,375.3L389.6,376.5L388.2,376.2L387.6,377.1L388.4,378.2L387.5,379.1L386.4,378.3L385.5,378.9L385.8,380.3L384.6,380.8L383.8,379.6L382.8,379.8L382.5,381.2L381.3,381.2L381.0,379.8L380.0,379.6L379.2,380.8L378.0,380.3L378.3,378.9L377.4,378.3L376.3,379.1L375.4,378.2L376.2,377.1L375.6,376.2L374.2,376.5L373.7,375.3L374.9,374.5L374.7,373.5L373.3,373.2L373.3,372.0L374.7,371.7L374.9,370.7L373.7,369.9L374.2,368.7L375.6,369.0L376.2,368.1L375.4,367.0L376.3,366.1L377.4,366.9L378.3,366.3L378.0,364.9L379.2,364.4L380.0,365.6L381.0,365.4L381.3,364.0L382.5,364.0L382.8,365.4L383.8,365.6L384.6,364.4L385.8,364.9L385.5,366.3L386.4,366.9L387.5,366.1L388.4,367.0L387.6,368.1L388.2,369.0L389.6,368.7L390.1,369.9L388.9,370.7Z" fill="#e7609f" />
<circle cx="381.9" cy="372.6" r="5.6" fill="#f4a6c8"/>
<circle cx="381.9" cy="372.6" r="3.9" fill="none" stroke="#fff" stroke-width="1.6" stroke-dasharray="2.2 1.2" opacity="0.85"/>
<circle cx="381.9" cy="372.6" r="1.6" fill="#fff" opacity="0.8"/>
<path d="M353.0,375.4L354.4,375.7L354.4,376.9L353.0,377.2L352.8,378.2L354.0,379.0L353.5,380.2L352.1,379.9L351.5,380.8L352.3,381.9L351.4,382.8L350.3,382.0L349.4,382.6L349.7,384.0L348.5,384.5L347.7,383.3L346.7,383.5L346.4,384.9L345.2,384.9L344.9,383.5L343.9,383.3L343.1,384.5L341.9,384.0L342.2,382.6L341.3,382.0L340.2,382.8L339.3,381.9L340.1,380.8L339.5,379.9L338.1,380.2L337.6,379.0L338.8,378.2L338.6,377.2L337.2,376.9L337.2,375.7L338.6,375.4L338.8,374.4L337.6,373.6L338.1,372.4L339.5,372.7L340.1,371.8L339.3,370.7L340.2,369.8L341.3,370.6L342.2,370.0L341.9,368.6L343.1,368.1L343.9,369.3L344.9,369.1L345.2,367.7L346.4,367.7L346.7,369.1L347.7,369.3L348.5,368.1L349.7,368.6L349.4,370.0L350.3,370.6L351.4,369.8L352.3,370.7L351.5,371.8L352.1,372.7L353.5,372.4L354.0,373.6L352.8,374.4Z" fill="#5a97cf" />
<circle cx="345.8" cy="376.3" r="5.6" fill="#a4c8ea"/>
<circle cx="345.8" cy="376.3" r="3.9" fill="none" stroke="#fff" stroke-width="1.6" stroke-dasharray="2.2 1.2" opacity="0.85"/>
<circle cx="345.8" cy="376.3" r="1.6" fill="#fff" opacity="0.8"/>
<path d="M365.8,391.2L367.2,391.5L367.2,392.7L365.8,393.0L365.6,394.0L366.8,394.8L366.3,396.0L364.9,395.7L364.3,396.6L365.1,397.7L364.2,398.6L363.1,397.8L362.2,398.4L362.5,399.8L361.3,400.3L360.5,399.1L359.5,399.3L359.2,400.7L358.0,400.7L357.7,399.3L356.7,399.1L355.9,400.3L354.7,399.8L355.0,398.4L354.1,397.8L353.0,398.6L352.1,397.7L352.9,396.6L352.3,395.7L350.9,396.0L350.4,394.8L351.6,394.0L351.4,393.0L350.0,392.7L350.0,391.5L351.4,391.2L351.6,390.2L350.4,389.4L350.9,388.2L352.3,388.5L352.9,387.6L352.1,386.5L353.0,385.6L354.1,386.4L355.0,385.8L354.7,384.4L355.9,383.9L356.7,385.1L357.7,384.9L358.0,383.5L359.2,383.5L359.5,384.9L360.5,385.1L361.3,383.9L362.5,384.4L362.2,385.8L363.1,386.4L364.2,385.6L365.1,386.5L364.3,387.6L364.9,388.5L366.3,388.2L366.8,389.4L365.6,390.2Z" fill="#7a76c2" />
<circle cx="358.6" cy="392.1" r="5.6" fill="#b3b0e0"/>
<circle cx="358.6" cy="392.1" r="3.9" fill="none" stroke="#fff" stroke-width="1.6" stroke-dasharray="2.2 1.2" opacity="0.85"/>
<circle cx="358.6" cy="392.1" r="1.6" fill="#fff" opacity="0.8"/>
<path d="M377.2,330.8 C371,338 362,345 360.5,353 C359.5,362 366,366.5 372,365.5 C380,361 389,364 391,372.5 C392.5,382 382,392 372,399 C365,404.5 352,402 349,394 C347,388 353,384 355.5,379 C357,372 352,365.5 344,366.5 C336,367.5 330,371 325,372.6" fill="none" stroke="#4a2e20" stroke-width="1.0" stroke-linecap="round"/>
<polygon points="378.3,329.2 377.0,333.9 376.2,331.9 374.0,331.6" fill="#4a2e20"/>
<text transform="translate(466.3,415.4) rotate(0)" font-family="Liberation Sans, sans-serif" font-size="11.3" fill="#111" text-anchor="middle" font-weight="bold" font-style="normal" letter-spacing="0">Acetylation</text>
<text transform="translate(407,473.6) rotate(0)" font-family="Liberation Sans, sans-serif" font-size="11.6" fill="#111" text-anchor="middle" font-weight="bold" font-style="normal" letter-spacing="0">Deacetylation</text>
<path d="M439.8,447.8 L439.8,454.1 L502.4,438.0 L502.4,431.7" fill="none" stroke="#3a3a3a" stroke-width="1.9" stroke-linejoin="round"/>
<ellipse cx="439.8" cy="448.40000000000003" rx="8.2" ry="1.5" fill="#3a3a3a"/>
<path d="M424.8,442.6 L454.8,442.6 L452.8,446.1 Q451.8,447.8 449.3,447.8 L430.3,447.8 Q427.8,447.8 426.8,446.1 Z" fill="#f49a1c"/>
<rect x="423.40000000000003" y="440.90000000000003" width="32.8" height="1.9" rx="0.6" fill="#c8500c"/>
<ellipse cx="502.4" cy="432.3" rx="8.2" ry="1.5" fill="#3a3a3a"/>
<path d="M487.4,426.5 L517.4,426.5 L515.4,430.0 Q514.4,431.7 511.9,431.7 L492.9,431.7 Q490.4,431.7 489.4,430.0 Z" fill="#f49a1c"/>
<rect x="486.0" y="424.8" width="32.8" height="1.9" rx="0.6" fill="#c8500c"/>
<path d="M457.40000000000003,461.4 L458.6,456.2 Q460.8,450.2 464.8,449.2 L476.8,449.2 Q480.8,450.2 483.0,456.2 L484.2,461.4 Z" fill="#3a3a3a"/>
<rect x="456.6" y="461.3" width="28.4" height="1.6" fill="#c8500c"/>
<circle cx="470.8" cy="444.2" r="8.3" fill="#fffdf6" stroke="#f49a1c" stroke-width="1.5"/>
<line x1="465.9" y1="442.4" x2="464.6" y2="441.9" stroke="#555" stroke-width="0.5"/>
<line x1="466.7" y1="441.0" x2="465.6" y2="440.2" stroke="#555" stroke-width="0.5"/>
<line x1="467.8" y1="439.9" x2="467.0" y2="438.8" stroke="#555" stroke-width="0.5"/>
<line x1="469.2" y1="439.2" x2="468.8" y2="437.9" stroke="#555" stroke-width="0.5"/>
<line x1="470.8" y1="439.0" x2="470.8" y2="437.6" stroke="#555" stroke-width="0.5"/>
<line x1="472.4" y1="439.2" x2="472.8" y2="437.9" stroke="#555" stroke-width="0.5"/>
<line x1="473.8" y1="439.9" x2="474.6" y2="438.8" stroke="#555" stroke-width="0.5"/>
<line x1="474.9" y1="441.0" x2="476.0" y2="440.2" stroke="#555" stroke-width="0.5"/>
<line x1="475.7" y1="442.4" x2="477.0" y2="441.9" stroke="#555" stroke-width="0.5"/>
<text transform="translate(439.8,439.8) rotate(0)" font-family="Liberation Sans, sans-serif" font-size="6.0" fill="#0a0ae8" text-anchor="middle" font-weight="normal" font-style="normal" letter-spacing="0">Acetyl-CoA</text>
<text transform="translate(502.4,423.7) rotate(0)" font-family="Liberation Sans, sans-serif" font-size="6.0" fill="#0a0ae8" text-anchor="middle" font-weight="normal" font-style="normal" letter-spacing="0">CoA</text>
<path d="M373.1,491.7 L373.1,498.0 L438.7,514.4 L438.7,508.1" fill="none" stroke="#3a3a3a" stroke-width="1.9" stroke-linejoin="round"/>
<ellipse cx="373.1" cy="492.3" rx="8.2" ry="1.5" fill="#3a3a3a"/>
<path d="M358.1,486.5 L388.1,486.5 L386.1,490.0 Q385.1,491.7 382.6,491.7 L363.6,491.7 Q361.1,491.7 360.1,490.0 Z" fill="#f49a1c"/>
<rect x="356.70000000000005" y="484.8" width="32.8" height="1.9" rx="0.6" fill="#c8500c"/>
<ellipse cx="438.7" cy="508.70000000000005" rx="8.2" ry="1.5" fill="#3a3a3a"/>
<path d="M423.7,502.90000000000003 L453.7,502.90000000000003 L451.7,506.40000000000003 Q450.7,508.1 448.2,508.1 L429.2,508.1 Q426.7,508.1 425.7,506.40000000000003 Z" fill="#f49a1c"/>
<rect x="422.3" y="501.20000000000005" width="32.8" height="1.9" rx="0.6" fill="#c8500c"/>
<path d="M392.5,522.1 L393.7,516.9 Q395.9,510.9 399.9,509.9 L411.9,509.9 Q415.9,510.9 418.09999999999997,516.9 L419.29999999999995,522.1 Z" fill="#3a3a3a"/>
<rect x="391.7" y="522.0" width="28.4" height="1.6" fill="#c8500c"/>
<circle cx="405.9" cy="504.9" r="8.3" fill="#fffdf6" stroke="#f49a1c" stroke-width="1.5"/>
<line x1="401.0" y1="503.1" x2="399.7" y2="502.6" stroke="#555" stroke-width="0.5"/>
<line x1="401.8" y1="501.7" x2="400.7" y2="500.9" stroke="#555" stroke-width="0.5"/>
<line x1="402.9" y1="500.6" x2="402.1" y2="499.5" stroke="#555" stroke-width="0.5"/>
<line x1="404.3" y1="499.9" x2="403.9" y2="498.6" stroke="#555" stroke-width="0.5"/>
<line x1="405.9" y1="499.7" x2="405.9" y2="498.3" stroke="#555" stroke-width="0.5"/>
<line x1="407.5" y1="499.9" x2="407.9" y2="498.6" stroke="#555" stroke-width="0.5"/>
<line x1="408.9" y1="500.6" x2="409.7" y2="499.5" stroke="#555" stroke-width="0.5"/>
<line x1="410.0" y1="501.7" x2="411.1" y2="500.9" stroke="#555" stroke-width="0.5"/>
<line x1="410.8" y1="503.1" x2="412.1" y2="502.6" stroke="#555" stroke-width="0.5"/>
<text transform="translate(373.1,483.7) rotate(0)" font-family="Liberation Sans, sans-serif" font-size="6.0" fill="#0a0ae8" text-anchor="middle" font-weight="normal" font-style="normal" letter-spacing="0">Acetyl-CoA</text>
<text transform="translate(438.7,500.1) rotate(0)" font-family="Liberation Sans, sans-serif" font-size="6.0" fill="#0a0ae8" text-anchor="middle" font-weight="normal" font-style="normal" letter-spacing="0">CoA</text>
<line x1="466.2" y1="440.6" x2="475" y2="447.4" stroke="#333" stroke-width="1.1"/>
<line x1="401.6" y1="507.3" x2="410.5" y2="502" stroke="#333" stroke-width="1.1"/>
<g transform="translate(0,0)">
<ellipse transform="translate(191.4,176.3) rotate(24.6)" rx="12.9" ry="16.4" fill="url(#gY)" stroke="#111" stroke-width="1.1"/>
<line x1="189.6" y1="173.6" x2="192.4" y2="179.4" stroke="#111" stroke-width="1.1"/>
<ellipse transform="translate(207.4,187.9) rotate(27)" rx="8.4" ry="4.2" fill="#93c394" stroke="#111" stroke-width="1"/>
<path d="M205.6,186 L207.3,189.2 M207.6,186.6 L209.3,189.8" stroke="#2d5a2d" stroke-width="0.7"/>
<ellipse transform="translate(255.3,198.1) rotate(-26)" rx="9.7" ry="5.2" fill="#7fb2dc" stroke="#111" stroke-width="1"/>
<path d="M250.3,198 L252.5,201.5 M253.4,196.6 L256.2,201.2 L257.4,194.6" stroke="#123" stroke-width="0.8" fill="none"/>
<path d="M218.3,181.7Q218.8,179.8 220.7,180.3L231.8,183.4Q233.7,183.9 233.4,185.9L232.7,190.6Q232.6,191.6 231.6,191.6L229.5,191.6Q228.0,191.6 227.2,192.9L226.2,194.6Q225.4,196.0 226.1,197.4L226.9,199.2Q227.6,200.6 229.2,200.9L231.2,201.4Q232.4,201.6 232.8,200.5L234.0,196.6Q234.3,195.6 235.3,195.5L241.6,194.5Q243.6,194.2 244.1,196.1L246.3,205.9Q246.8,207.8 244.9,208.4L225.9,214.6Q224.0,215.2 222.6,213.8L213.9,205.4Q212.5,204.0 213.0,202.1Z" fill="url(#gPk)" stroke="#111" stroke-width="1.1" stroke-linejoin="round"/>
<path d="M230.6,205.8 L232.4,211 M233,205 L234.8,210.2 M235.4,204.2 L237.2,209.4" stroke="#111" stroke-width="0.9"/>
</g>
<circle cx="228.1" cy="177" r="5" fill="url(#gRd)"/>
<g transform="translate(100.9,-52.3)">
<ellipse transform="translate(191.4,176.3) rotate(24.6)" rx="12.9" ry="16.4" fill="url(#gY)" stroke="#111" stroke-width="1.1"/>
<line x1="189.6" y1="173.6" x2="192.4" y2="179.4" stroke="#111" stroke-width="1.1"/>
<ellipse transform="translate(207.4,187.9) rotate(27)" rx="8.4" ry="4.2" fill="#93c394" stroke="#111" stroke-width="1"/>
<path d="M205.6,186 L207.3,189.2 M207.6,186.6 L209.3,189.8" stroke="#2d5a2d" stroke-width="0.7"/>
<ellipse transform="translate(255.3,198.1) rotate(-26)" rx="9.7" ry="5.2" fill="#7fb2dc" stroke="#111" stroke-width="1"/>
<path d="M250.3,198 L252.5,201.5 M253.4,196.6 L256.2,201.2 L257.4,194.6" stroke="#123" stroke-width="0.8" fill="none"/>
<path d="M218.3,181.7Q218.8,179.8 220.7,180.3L231.8,183.4Q233.7,183.9 233.4,185.9L232.7,190.6Q232.6,191.6 231.6,191.6L229.5,191.6Q228.0,191.6 227.2,192.9L226.2,194.6Q225.4,196.0 226.1,197.4L226.9,199.2Q227.6,200.6 229.2,200.9L231.2,201.4Q232.4,201.6 232.8,200.5L234.0,196.6Q234.3,195.6 235.3,195.5L241.6,194.5Q243.6,194.2 244.1,196.1L246.3,205.9Q246.8,207.8 244.9,208.4L225.9,214.6Q224.0,215.2 222.6,213.8L213.9,205.4Q212.5,204.0 213.0,202.1Z" fill="url(#gPk)" stroke="#111" stroke-width="1.1" stroke-linejoin="round"/>
<path d="M230.6,205.8 L232.4,211 M233,205 L234.8,210.2 M235.4,204.2 L237.2,209.4" stroke="#111" stroke-width="0.9"/>
</g>
<ellipse transform="translate(293.5,102.8) rotate(-20)" rx="6.6" ry="5.8" fill="#f7e000" stroke="#222" stroke-width="1"/>
<text transform="translate(293.5,102.8) rotate(-20)" x="0" y="2.6" font-family="Liberation Sans, sans-serif" font-size="7.2" fill="#111" text-anchor="middle">Ac</text>
<ellipse transform="translate(307,156) rotate(-25)" rx="6.6" ry="5.8" fill="#f7e000" stroke="#222" stroke-width="1"/>
<text transform="translate(307,156) rotate(-25)" x="0" y="2.6" font-family="Liberation Sans, sans-serif" font-size="7.2" fill="#111" text-anchor="middle">Ac</text>
<ellipse transform="translate(344.7,162.8) rotate(-25)" rx="6.6" ry="5.8" fill="#f7e000" stroke="#222" stroke-width="1"/>
<text transform="translate(344.7,162.8) rotate(-25)" x="0" y="2.6" font-family="Liberation Sans, sans-serif" font-size="7.2" fill="#111" text-anchor="middle">Ac</text>
<ellipse transform="translate(367,151) rotate(-25)" rx="6.6" ry="5.8" fill="#f7e000" stroke="#222" stroke-width="1"/>
<text transform="translate(367,151) rotate(-25)" x="0" y="2.6" font-family="Liberation Sans, sans-serif" font-size="7.2" fill="#111" text-anchor="middle">Ac</text>
<rect transform="translate(330.4,122.3) rotate(-27)" x="-7.2" y="-4.2" width="14.4" height="8.4" rx="3.5" fill="#f7ab3c" stroke="#e08a1a" stroke-width="0.6"/>
<text transform="translate(330.8,124.2) rotate(-27)" font-family="Liberation Sans, sans-serif" font-size="5.6" fill="#5a3a10" text-anchor="middle" font-weight="normal" font-style="normal" letter-spacing="0">KAc</text>
<polygon points="358.6,127.8 353.9,130.5 349.2,127.8 349.2,122.4 353.9,119.7 358.6,122.4" fill="url(#gRd)" stroke="#e0606a" stroke-width="0.5" stroke-linejoin="round"/>
<line x1="258.5" y1="172.0" x2="278.8" y2="161.4" stroke="#000" stroke-width="1.5"/>
<polygon points="284.6,158.4 279.4,164.7 279.6,161.0 276.5,159.1" fill="#000"/>
<line x1="289.2" y1="165.8" x2="269.1" y2="175.2" stroke="#000" stroke-width="1.5"/>
<polygon points="263.2,178.0 268.7,172.0 268.3,175.6 271.3,177.7" fill="#000"/>
<text transform="translate(263.2,155.5) rotate(-20)" font-family="Liberation Sans, sans-serif" font-size="9.3" fill="#1212c4" stroke="#1212c4" stroke-width="0.35" text-anchor="middle" font-weight="normal" font-style="normal" letter-spacing="0">Pat</text>
<text transform="translate(268.8,162.3) rotate(-20)" font-family="Liberation Sans, sans-serif" font-size="9.3" fill="#1212c4" stroke="#1212c4" stroke-width="0.35" text-anchor="middle" font-weight="normal" font-style="normal" letter-spacing="0">AcP</text>
<text transform="translate(280.6,183.2) rotate(-20)" font-family="Liberation Sans, sans-serif" font-size="9.3" fill="#1212c4" stroke="#1212c4" stroke-width="0.35" text-anchor="middle" font-weight="normal" font-style="normal" letter-spacing="0">CobB</text>
<g transform="translate(0,0)">
<line x1="233.6" y1="246.9" x2="232.3" y2="243.6" stroke="#e33" stroke-width="1.1"/>
<line x1="238.2" y1="247.1" x2="235.6" y2="240.4" stroke="#2a2" stroke-width="1.1"/>
<line x1="241.5" y1="243.9" x2="240.2" y2="240.6" stroke="#f5c400" stroke-width="1.1"/>
<line x1="244.2" y1="239.1" x2="245.4" y2="242.4" stroke="#23c" stroke-width="1.1"/>
<line x1="247.5" y1="235.9" x2="250.0" y2="242.6" stroke="#e33" stroke-width="1.1"/>
<line x1="252.1" y1="236.1" x2="253.3" y2="239.4" stroke="#23c" stroke-width="1.1"/>
<line x1="257.3" y1="237.9" x2="256.0" y2="234.6" stroke="#2a2" stroke-width="1.1"/>
<line x1="261.9" y1="238.1" x2="259.3" y2="231.4" stroke="#f5c400" stroke-width="1.1"/>
<line x1="265.2" y1="234.9" x2="263.9" y2="231.6" stroke="#e33" stroke-width="1.1"/>
<path d="M231.0,246.0L232.6,246.6L234.1,247.1L235.6,247.4L237.0,247.4L238.2,247.1L239.3,246.5L240.3,245.6L241.2,244.4L242.0,243.0L242.8,241.5L243.6,240.0L244.4,238.6L245.3,237.4L246.3,236.5L247.5,235.9L248.7,235.6L250.1,235.6L251.5,235.9L253.1,236.4L254.7,237.0L256.2,237.6L257.8,238.1L259.3,238.4L260.6,238.4L261.9,238.1L263.0,237.5L264.0,236.6L264.9,235.4L265.7,234.0L266.5,232.5" fill="none" stroke="#d22" stroke-width="1.3" stroke-linecap="round"/>
<path d="M231.0,246.0L231.8,244.5L232.6,243.1L233.5,241.9L234.5,241.0L235.6,240.4L236.9,240.1L238.2,240.1L239.7,240.4L241.3,240.9L242.8,241.5L244.4,242.1L246.0,242.6L247.4,242.9L248.8,242.9L250.0,242.6L251.2,242.0L252.2,241.1L253.1,239.9L253.9,238.5L254.7,237.0L255.5,235.5L256.3,234.1L257.2,232.9L258.2,232.0L259.3,231.4L260.5,231.1L261.9,231.1L263.4,231.4L264.9,231.9L266.5,232.5" fill="none" stroke="#24b" stroke-width="1.3" stroke-linecap="round"/>
<path d="M270.5,221.5 C275,217.5 279,219 282,222 S288,225 291.5,222.8" fill="none" stroke="#d33" stroke-width="1.1" stroke-linecap="round"/>
<path d="M274,219.6 l0.8,2.6 M276.4,219.4 l0.8,2.6 M278.6,220.2 l0.8,2.6 M284.6,223.2 l0.8,-2.4 M287,223.8 l0.8,-2.4" stroke="#555" stroke-width="0.6"/>
<path d="M245,227 C243.5,217.5 250.5,214.5 258.5,214.8 C267.5,215 272.5,219.5 271.8,226.5 C271.2,231.5 266,233.2 263,230 C261,227.2 259.5,225.4 256.5,226 C253.5,226.8 253.8,230.5 251.5,232.2 C248,234.2 245.5,231.5 245,227 Z" fill="url(#gGb)"/>
</g>
<g transform="translate(96.8,-44.5)">
<line x1="233.6" y1="246.9" x2="232.3" y2="243.6" stroke="#e33" stroke-width="1.1"/>
<line x1="238.2" y1="247.1" x2="235.6" y2="240.4" stroke="#2a2" stroke-width="1.1"/>
<line x1="241.5" y1="243.9" x2="240.2" y2="240.6" stroke="#f5c400" stroke-width="1.1"/>
<line x1="244.2" y1="239.1" x2="245.4" y2="242.4" stroke="#23c" stroke-width="1.1"/>
<line x1="247.5" y1="235.9" x2="250.0" y2="242.6" stroke="#e33" stroke-width="1.1"/>
<line x1="252.1" y1="236.1" x2="253.3" y2="239.4" stroke="#23c" stroke-width="1.1"/>
<line x1="257.3" y1="237.9" x2="256.0" y2="234.6" stroke="#2a2" stroke-width="1.1"/>
<line x1="261.9" y1="238.1" x2="259.3" y2="231.4" stroke="#f5c400" stroke-width="1.1"/>
<line x1="265.2" y1="234.9" x2="263.9" y2="231.6" stroke="#e33" stroke-width="1.1"/>
<path d="M231.0,246.0L232.6,246.6L234.1,247.1L235.6,247.4L237.0,247.4L238.2,247.1L239.3,246.5L240.3,245.6L241.2,244.4L242.0,243.0L242.8,241.5L243.6,240.0L244.4,238.6L245.3,237.4L246.3,236.5L247.5,235.9L248.7,235.6L250.1,235.6L251.5,235.9L253.1,236.4L254.7,237.0L256.2,237.6L257.8,238.1L259.3,238.4L260.6,238.4L261.9,238.1L263.0,237.5L264.0,236.6L264.9,235.4L265.7,234.0L266.5,232.5" fill="none" stroke="#d22" stroke-width="1.3" stroke-linecap="round"/>
<path d="M231.0,246.0L231.8,244.5L232.6,243.1L233.5,241.9L234.5,241.0L235.6,240.4L236.9,240.1L238.2,240.1L239.7,240.4L241.3,240.9L242.8,241.5L244.4,242.1L246.0,242.6L247.4,242.9L248.8,242.9L250.0,242.6L251.2,242.0L252.2,241.1L253.1,239.9L253.9,238.5L254.7,237.0L255.5,235.5L256.3,234.1L257.2,232.9L258.2,232.0L259.3,231.4L260.5,231.1L261.9,231.1L263.4,231.4L264.9,231.9L266.5,232.5" fill="none" stroke="#24b" stroke-width="1.3" stroke-linecap="round"/>
<path d="M270.5,221.5 C275,217.5 279,219 282,222 S288,225 291.5,222.8" fill="none" stroke="#d33" stroke-width="1.1" stroke-linecap="round"/>
<path d="M274,219.6 l0.8,2.6 M276.4,219.4 l0.8,2.6 M278.6,220.2 l0.8,2.6 M284.6,223.2 l0.8,-2.4 M287,223.8 l0.8,-2.4" stroke="#555" stroke-width="0.6"/>
<path d="M245,227 C243.5,217.5 250.5,214.5 258.5,214.8 C267.5,215 272.5,219.5 271.8,226.5 C271.2,231.5 266,233.2 263,230 C261,227.2 259.5,225.4 256.5,226 C253.5,226.8 253.8,230.5 251.5,232.2 C248,234.2 245.5,231.5 245,227 Z" fill="url(#gGb)"/>
</g>
<line x1="270.6" y1="214.8" x2="282.9" y2="209.3" stroke="#000" stroke-width="1.2"/>
<polygon points="287.0,207.4 282.9,211.8 283.2,209.1 281.0,207.6" fill="#000"/>
<line x1="367.6" y1="170.3" x2="381.2" y2="163.9" stroke="#000" stroke-width="1.1" stroke-dasharray="2 1.5"/>
<polygon points="384.8,162.2 381.2,166.2 381.4,163.8 379.4,162.4" fill="#000"/>
<g transform="translate(0,0)">
<path d="M221.4,223.2 C211.5,229 207.5,240.5 212.3,250.5 C215.5,256.5 221.5,259.5 227.5,259.8 L227.2,256.6 L236.8,260.2 L228.6,266 L228.2,262.6 C219.5,262.3 212.5,258 209.3,250.8 C205,240.5 209.5,228.5 221.4,223.2 Z" fill="#3fa9f5"/>
</g>
<g transform="translate(95.2,-46.2)">
<path d="M221.4,223.2 C211.5,229 207.5,240.5 212.3,250.5 C215.5,256.5 221.5,259.5 227.5,259.8 L227.2,256.6 L236.8,260.2 L228.6,266 L228.2,262.6 C219.5,262.3 212.5,258 209.3,250.8 C205,240.5 209.5,228.5 221.4,223.2 Z" fill="#3fa9f5"/>
</g>
<line x1="245.1" y1="272.2" x2="243.7" y2="269.1" stroke="#8a6" stroke-width="0.8"/>
<line x1="247.4" y1="273.3" x2="244.5" y2="266.7" stroke="#c84" stroke-width="0.8"/>
<line x1="248.4" y1="271.3" x2="246.7" y2="267.3" stroke="#66c" stroke-width="0.8"/>
<line x1="248.6" y1="267.5" x2="249.6" y2="269.7" stroke="#484" stroke-width="0.8"/>
<line x1="249.3" y1="264.7" x2="252.0" y2="271.2" stroke="#8a6" stroke-width="0.8"/>
<line x1="251.2" y1="264.9" x2="253.3" y2="269.7" stroke="#c84" stroke-width="0.8"/>
<line x1="254.1" y1="267.2" x2="253.5" y2="266.0" stroke="#66c" stroke-width="0.8"/>
<line x1="256.7" y1="269.0" x2="254.0" y2="262.8" stroke="#484" stroke-width="0.8"/>
<line x1="258.1" y1="267.9" x2="255.8" y2="262.5" stroke="#8a6" stroke-width="0.8"/>
<line x1="258.4" y1="264.4" x2="258.6" y2="264.7" stroke="#c84" stroke-width="0.8"/>
<line x1="258.8" y1="261.0" x2="261.3" y2="266.7" stroke="#66c" stroke-width="0.8"/>
<line x1="260.4" y1="260.2" x2="262.9" y2="266.2" stroke="#484" stroke-width="0.8"/>
<line x1="263.0" y1="262.1" x2="263.4" y2="262.9" stroke="#8a6" stroke-width="0.8"/>
<line x1="265.9" y1="264.4" x2="263.7" y2="259.3" stroke="#c84" stroke-width="0.8"/>
<line x1="267.7" y1="264.3" x2="265.0" y2="258.0" stroke="#66c" stroke-width="0.8"/>
<line x1="268.3" y1="261.4" x2="267.5" y2="259.6" stroke="#484" stroke-width="0.8"/>
<line x1="268.5" y1="257.6" x2="270.4" y2="262.0" stroke="#8a6" stroke-width="0.8"/>
<line x1="269.6" y1="255.9" x2="272.5" y2="262.4" stroke="#c84" stroke-width="0.8"/>
<line x1="272.0" y1="257.1" x2="273.2" y2="259.8" stroke="#66c" stroke-width="0.8"/>
<line x1="275.0" y1="259.6" x2="273.4" y2="256.0" stroke="#484" stroke-width="0.8"/>
<line x1="277.2" y1="260.4" x2="274.3" y2="253.8" stroke="#8a6" stroke-width="0.8"/>
<line x1="278.1" y1="258.2" x2="276.5" y2="254.6" stroke="#c84" stroke-width="0.8"/>
<line x1="278.3" y1="254.4" x2="279.5" y2="257.1" stroke="#66c" stroke-width="0.8"/>
<line x1="279.0" y1="251.8" x2="281.9" y2="258.3" stroke="#484" stroke-width="0.8"/>
<line x1="281.1" y1="252.2" x2="283.0" y2="256.6" stroke="#8a6" stroke-width="0.8"/>
<line x1="284.0" y1="254.6" x2="283.2" y2="252.8" stroke="#c84" stroke-width="0.8"/>
<line x1="286.5" y1="256.2" x2="283.8" y2="249.9" stroke="#66c" stroke-width="0.8"/>
<line x1="287.8" y1="254.9" x2="285.6" y2="249.8" stroke="#484" stroke-width="0.8"/>
<line x1="288.1" y1="251.3" x2="288.5" y2="252.1" stroke="#8a6" stroke-width="0.8"/>
<line x1="288.6" y1="248.0" x2="291.1" y2="254.0" stroke="#c84" stroke-width="0.8"/>
<line x1="290.2" y1="247.5" x2="292.7" y2="253.2" stroke="#66c" stroke-width="0.8"/>
<line x1="292.9" y1="249.5" x2="293.1" y2="249.8" stroke="#484" stroke-width="0.8"/>
<line x1="295.7" y1="251.7" x2="293.4" y2="246.3" stroke="#8a6" stroke-width="0.8"/>
<line x1="297.5" y1="251.4" x2="294.8" y2="245.2" stroke="#c84" stroke-width="0.8"/>
<line x1="298.0" y1="248.2" x2="297.4" y2="247.0" stroke="#66c" stroke-width="0.8"/>
<line x1="298.2" y1="244.5" x2="300.3" y2="249.3" stroke="#484" stroke-width="0.8"/>
<line x1="299.5" y1="243.0" x2="302.2" y2="249.5" stroke="#8a6" stroke-width="0.8"/>
<line x1="301.9" y1="244.5" x2="302.9" y2="246.7" stroke="#c84" stroke-width="0.8"/>
<line x1="304.8" y1="246.9" x2="303.1" y2="242.9" stroke="#66c" stroke-width="0.8"/>
<line x1="307.0" y1="247.5" x2="304.1" y2="240.9" stroke="#484" stroke-width="0.8"/>
<line x1="307.8" y1="245.1" x2="306.4" y2="242.0" stroke="#8a6" stroke-width="0.8"/>
<path d="M243.6,271.0L244.5,271.8L245.4,272.5L246.2,273.0L246.9,273.3L247.5,273.2L247.9,272.9L248.2,272.2L248.4,271.2L248.5,270.1L248.5,268.9L248.6,267.6L248.7,266.5L248.9,265.5L249.2,264.9L249.6,264.5L250.2,264.4L250.9,264.7L251.7,265.2L252.6,265.9L253.5,266.7L254.4,267.5L255.3,268.2L256.1,268.8L256.8,269.0L257.4,269.0L257.8,268.6L258.1,267.9L258.3,267.0L258.4,265.8L258.4,264.6L258.5,263.3L258.6,262.2L258.8,261.3L259.1,260.6L259.5,260.2L260.0,260.2L260.7,260.4L261.6,260.9L262.4,261.6L263.4,262.4L264.3,263.3L265.2,264.0L266.0,264.5L266.7,264.7L267.3,264.7L267.7,264.3L268.0,263.6L268.2,262.7L268.3,261.5L268.3,260.3L268.4,259.1L268.5,257.9L268.7,257.0L269.0,256.3L269.4,255.9L269.9,255.9L270.6,256.1L271.4,256.7L272.3,257.4L273.3,258.2L274.2,259.0L275.1,259.7L275.9,260.2L276.6,260.5L277.2,260.4L277.6,260.0L277.9,259.3L278.1,258.4L278.2,257.3L278.2,256.0L278.3,254.8L278.4,253.7L278.6,252.7L278.8,252.0L279.3,251.7L279.8,251.6L280.5,251.9L281.3,252.4L282.2,253.1L283.2,253.9L284.1,254.7L285.0,255.4L285.8,255.9L286.5,256.2L287.1,256.1L287.5,255.8L287.8,255.1L288.0,254.1L288.1,253.0L288.1,251.8L288.2,250.5L288.3,249.4L288.4,248.4L288.7,247.8L289.2,247.4L289.7,247.3L290.4,247.6L291.2,248.1L292.1,248.8L293.1,249.6L294.0,250.4L294.9,251.1L295.7,251.6L296.4,251.9L297.0,251.9L297.4,251.5L297.7,250.8L297.9,249.8L298.0,248.7L298.0,247.5L298.1,246.2L298.2,245.1L298.3,244.2L298.6,243.5L299.1,243.1L299.6,243.1L300.3,243.3L301.1,243.8L302.0,244.5L303.0,245.3L303.9,246.1L304.8,246.9L305.6,247.4L306.3,247.6L306.9,247.6L307.3,247.2L307.6,246.5L307.8,245.6L307.8,244.4L307.9,243.2" fill="none" stroke="#6a55c8" stroke-width="1.3" stroke-linecap="round"/>
<path d="M243.6,271.0L243.7,269.8L243.7,268.6L243.9,267.7L244.2,267.0L244.6,266.6L245.2,266.6L245.9,266.8L246.7,267.3L247.6,268.1L248.5,268.9L249.5,269.7L250.4,270.4L251.2,270.9L251.9,271.1L252.4,271.1L252.9,270.7L253.2,270.0L253.3,269.1L253.4,268.0L253.5,266.7L253.5,265.5L253.6,264.4L253.8,263.4L254.1,262.7L254.5,262.3L255.1,262.3L255.8,262.6L256.6,263.1L257.5,263.8L258.4,264.6L259.4,265.4L260.3,266.1L261.1,266.6L261.8,266.9L262.3,266.8L262.8,266.4L263.1,265.8L263.2,264.8L263.3,263.7L263.4,262.4L263.4,261.2L263.5,260.1L263.7,259.1L264.0,258.4L264.4,258.1L265.0,258.0L265.7,258.3L266.5,258.8L267.4,259.5L268.3,260.3L269.3,261.1L270.2,261.8L271.0,262.3L271.7,262.6L272.2,262.5L272.7,262.2L272.9,261.5L273.1,260.5L273.2,259.4L273.3,258.2L273.3,256.9L273.4,255.8L273.6,254.9L273.9,254.2L274.3,253.8L274.9,253.7L275.6,254.0L276.4,254.5L277.3,255.2L278.2,256.0L279.2,256.8L280.1,257.5L280.9,258.1L281.6,258.3L282.1,258.3L282.5,257.9L282.8,257.2L283.0,256.3L283.1,255.1L283.2,253.9L283.2,252.7L283.3,251.5L283.5,250.6L283.8,249.9L284.2,249.5L284.8,249.5L285.5,249.7L286.3,250.2L287.2,250.9L288.1,251.8L289.1,252.6L289.9,253.3L290.8,253.8L291.5,254.0L292.0,254.0L292.4,253.6L292.7,252.9L292.9,252.0L293.0,250.9L293.1,249.6L293.1,248.4L293.2,247.2L293.4,246.3L293.7,245.6L294.1,245.2L294.7,245.2L295.4,245.4L296.2,246.0L297.1,246.7L298.0,247.5L298.9,248.3L299.8,249.0L300.6,249.5L301.3,249.8L301.9,249.7L302.3,249.3L302.6,248.7L302.8,247.7L302.9,246.6L303.0,245.3L303.0,244.1L303.1,243.0L303.3,242.0L303.6,241.3L304.0,241.0L304.6,240.9L305.3,241.2L306.1,241.7L307.0,242.4L307.9,243.2" fill="none" stroke="#3b7bd8" stroke-width="1.3" stroke-linecap="round"/>
<path d="M353.5,198.2 c2,-2.4 3.4,2.2 5.4,-0.2 s3.4,2.2 5.4,-0.2 s3.4,2.2 5.4,-0.2 s3.4,2.2 5.4,-0.2 s3.4,2.2 5.4,-0.2 s3.4,2.2 5.4,-0.2 s3.4,2 5.4,-0.4 s2.8,1.8 4.2,-0.4" fill="none" stroke="#7f9bd0" stroke-width="1.6" opacity="0.8"/>
<path d="M396,195 c3,2 1,5 -1.5,5.5 s-3,3 -0.5,4.2 s-2,3.6 -4.2,2.6" fill="none" stroke="#7f9bd0" stroke-width="1.6" opacity="0.8"/>
<line x1="334.0" y1="224.5" x2="336.4" y2="232.3" stroke="#111" stroke-width="1.0"/>
<line x1="336.0" y1="223.8" x2="338.4" y2="231.6" stroke="#111" stroke-width="1.0"/>
<line x1="338.0" y1="223.0" x2="340.4" y2="230.8" stroke="#111" stroke-width="1.0"/>
<line x1="340.0" y1="222.3" x2="342.4" y2="230.1" stroke="#111" stroke-width="1.0"/>
<line x1="342.0" y1="221.6" x2="344.4" y2="229.4" stroke="#111" stroke-width="1.0"/>
<line x1="344.0" y1="220.8" x2="346.4" y2="228.6" stroke="#111" stroke-width="1.0"/>
<line x1="346.0" y1="220.1" x2="348.4" y2="227.9" stroke="#111" stroke-width="1.0"/>
<line x1="348.0" y1="219.3" x2="350.4" y2="227.1" stroke="#111" stroke-width="1.0"/>
<line x1="350.0" y1="218.6" x2="352.4" y2="226.4" stroke="#111" stroke-width="1.0"/>
<path d="M333.2,225 L352.5,217.8 M335.6,232.4 L354.6,225.2" stroke="#8a9bc0" stroke-width="0.8"/>
<line x1="354.0" y1="222.9" x2="352.8" y2="219.7" stroke="#2a2" stroke-width="0.8"/>
<line x1="356.4" y1="223.9" x2="354.0" y2="217.3" stroke="#e33" stroke-width="0.8"/>
<line x1="357.7" y1="221.9" x2="356.3" y2="218.0" stroke="#f5c400" stroke-width="0.8"/>
<line x1="358.4" y1="218.2" x2="359.2" y2="220.5" stroke="#23c" stroke-width="0.8"/>
<line x1="359.4" y1="215.5" x2="361.7" y2="221.9" stroke="#2a2" stroke-width="0.8"/>
<line x1="361.5" y1="215.7" x2="363.2" y2="220.4" stroke="#e33" stroke-width="0.8"/>
<line x1="364.4" y1="218.1" x2="363.9" y2="216.7" stroke="#f5c400" stroke-width="0.8"/>
<line x1="367.1" y1="219.8" x2="364.8" y2="213.6" stroke="#23c" stroke-width="0.8"/>
<line x1="368.7" y1="218.7" x2="366.8" y2="213.4" stroke="#2a2" stroke-width="0.8"/>
<line x1="369.5" y1="215.2" x2="369.6" y2="215.7" stroke="#e33" stroke-width="0.8"/>
<line x1="370.3" y1="211.9" x2="372.4" y2="217.7" stroke="#f5c400" stroke-width="0.8"/>
<line x1="372.1" y1="211.2" x2="374.2" y2="217.0" stroke="#23c" stroke-width="0.8"/>
<line x1="374.9" y1="213.2" x2="375.0" y2="213.7" stroke="#2a2" stroke-width="0.8"/>
<line x1="377.7" y1="215.5" x2="375.8" y2="210.2" stroke="#e33" stroke-width="0.8"/>
<line x1="379.7" y1="215.3" x2="377.4" y2="209.1" stroke="#f5c400" stroke-width="0.8"/>
<line x1="380.6" y1="212.2" x2="380.1" y2="210.8" stroke="#23c" stroke-width="0.8"/>
<line x1="381.3" y1="208.5" x2="383.0" y2="213.2" stroke="#2a2" stroke-width="0.8"/>
<line x1="382.8" y1="207.0" x2="385.1" y2="213.4" stroke="#e33" stroke-width="0.8"/>
<line x1="385.3" y1="208.4" x2="386.1" y2="210.7" stroke="#f5c400" stroke-width="0.8"/>
<line x1="388.2" y1="210.9" x2="386.8" y2="207.0" stroke="#23c" stroke-width="0.8"/>
<line x1="390.5" y1="211.6" x2="388.1" y2="205.0" stroke="#2a2" stroke-width="0.8"/>
<line x1="391.7" y1="209.2" x2="390.5" y2="206.0" stroke="#e33" stroke-width="0.8"/>
<path d="M352.5,221.6L353.4,222.4L354.3,223.1L355.2,223.6L355.9,223.9L356.5,223.9L357.0,223.5L357.4,222.8L357.7,221.9L357.9,220.8L358.1,219.6L358.3,218.3L358.6,217.2L358.9,216.3L359.3,215.6L359.8,215.2L360.4,215.2L361.1,215.5L362.0,216.0L362.9,216.7L363.8,217.5L364.7,218.3L365.6,219.0L366.4,219.6L367.2,219.8L367.8,219.8L368.3,219.4L368.7,218.7L369.0,217.8L369.2,216.7L369.4,215.5L369.6,214.3L369.9,213.1L370.2,212.2L370.6,211.5L371.1,211.2L371.7,211.1L372.4,211.4L373.2,211.9L374.1,212.6L375.1,213.4L376.0,214.2L376.9,215.0L377.7,215.5L378.5,215.7L379.1,215.7L379.6,215.3L380.0,214.7L380.3,213.7L380.5,212.6L380.7,211.4L380.9,210.2L381.1,209.0L381.4,208.1L381.8,207.4L382.3,207.1L383.0,207.0L383.7,207.3L384.5,207.8L385.4,208.5L386.4,209.3L387.3,210.2L388.2,210.9L389.0,211.4L389.7,211.7L390.4,211.6L390.9,211.2L391.3,210.6L391.6,209.6L391.8,208.5L392.0,207.3" fill="none" stroke="#c93" stroke-width="1.2" stroke-linecap="round"/>
<path d="M352.5,221.6L352.7,220.4L352.9,219.3L353.2,218.3L353.6,217.7L354.1,217.3L354.8,217.2L355.5,217.5L356.3,218.0L357.2,218.7L358.1,219.6L359.1,220.4L360.0,221.1L360.8,221.6L361.5,221.9L362.2,221.8L362.7,221.5L363.1,220.8L363.4,219.9L363.6,218.7L363.8,217.5L364.0,216.3L364.2,215.2L364.5,214.2L364.9,213.6L365.4,213.2L366.0,213.2L366.8,213.4L367.6,213.9L368.5,214.7L369.4,215.5L370.4,216.3L371.3,217.0L372.1,217.5L372.8,217.8L373.4,217.7L373.9,217.4L374.3,216.7L374.6,215.8L374.9,214.6L375.1,213.4L375.3,212.2L375.5,211.1L375.8,210.2L376.2,209.5L376.7,209.1L377.3,209.1L378.1,209.3L378.9,209.9L379.8,210.6L380.7,211.4L381.6,212.2L382.5,212.9L383.4,213.4L384.1,213.7L384.7,213.7L385.2,213.3L385.6,212.6L385.9,211.7L386.2,210.6L386.4,209.3L386.6,208.1L386.8,207.0L387.1,206.1L387.5,205.4L388.0,205.0L388.6,205.0L389.3,205.3L390.2,205.8L391.1,206.5L392.0,207.3" fill="none" stroke="#57a" stroke-width="1.2" stroke-linecap="round"/>
<text transform="translate(119.80843014040002,276.9380596731441) rotate(-77.2)" font-family="Liberation Sans, sans-serif" font-size="8.0" fill="#111" text-anchor="middle" font-weight="normal" font-style="normal" letter-spacing="0">RNH</text>
<text transform="translate(142.87864089391002,266.95401116497266) rotate(-77.2)" font-family="Liberation Sans, sans-serif" font-size="8.2" fill="#111" text-anchor="middle" font-weight="normal" font-style="normal" letter-spacing="0">O</text>
<text transform="translate(145.20843014040003,299.2380596731441) rotate(-77.2)" font-family="Liberation Sans, sans-serif" font-size="8.0" fill="#111" text-anchor="middle" font-weight="normal" font-style="normal" letter-spacing="0">R'</text>
<line x1="121.8" y1="283.6" x2="126.7" y2="286.8" stroke="#111" stroke-width="0.9"/>
<line x1="126.7" y1="286.8" x2="134.6" y2="282.0" stroke="#111" stroke-width="0.9"/>
<path d="M135.9,281.7 L139.3,271.5 M133.9,281.1 L137.3,270.9" stroke="#111" stroke-width="0.9" fill="none"/>
<line x1="134.6" y1="282.0" x2="140.2" y2="292.6" stroke="#111" stroke-width="0.9"/>
<path d="M126.7,286.8L123.5,297.3L128.3,305.1L125.4,315.7L130.1,323.5L127.3,333.0" fill="none" stroke="#111" stroke-width="0.9" stroke-linejoin="round"/>
<text transform="translate(127.60843014040002,345.8380596731441) rotate(-77.2)" font-family="Liberation Sans, sans-serif" font-size="8.0" fill="#111" text-anchor="middle" font-weight="normal" font-style="normal" letter-spacing="0">NH<tspan font-size="5" dy="1.5">3</tspan><tspan font-size="5" dy="-4">+</tspan></text>
<text transform="translate(117.97864089391001,376.75401116497267) rotate(-77.2)" font-family="Liberation Sans, sans-serif" font-size="8.2" fill="#111" text-anchor="middle" font-weight="normal" font-style="normal" letter-spacing="0">O</text>
<text transform="translate(111.17864089391001,397.15401116497264) rotate(-77.2)" font-family="Liberation Sans, sans-serif" font-size="8.2" fill="#111" text-anchor="middle" font-weight="normal" font-style="normal" letter-spacing="0">P</text>
<text transform="translate(92.27864089391002,391.15401116497264) rotate(-77.2)" font-family="Liberation Sans, sans-serif" font-size="8.2" fill="#111" text-anchor="middle" font-weight="normal" font-style="normal" letter-spacing="0">O</text>
<text transform="translate(132.97864089391,402.95401116497266) rotate(-77.2)" font-family="Liberation Sans, sans-serif" font-size="8.2" fill="#111" text-anchor="middle" font-weight="normal" font-style="normal" letter-spacing="0">O</text>
<text transform="translate(106.17864089391001,417.45401116497266) rotate(-77.2)" font-family="Liberation Sans, sans-serif" font-size="8.2" fill="#111" text-anchor="middle" font-weight="normal" font-style="normal" letter-spacing="0">O</text>
<line x1="113.9" y1="380.2" x2="109.7" y2="392.4" stroke="#111" stroke-width="0.9"/>
<line x1="93.6" y1="391.8" x2="104.2" y2="395.2" stroke="#111" stroke-width="0.9"/>
<path d="M112.3,398.8 L125.5,402.3 M112.9,396.6 L126.1,400.1" stroke="#111" stroke-width="0.9" fill="none"/>
<line x1="107.2" y1="400.8" x2="104.3" y2="412.7" stroke="#111" stroke-width="0.9"/>
<line x1="85.3" y1="392.3" x2="72.6" y2="398.2" stroke="#111" stroke-width="0.9"/>
<line x1="101.8" y1="421.0" x2="97.6" y2="432.3" stroke="#111" stroke-width="0.9"/>
<line x1="64.9" y1="404.0" x2="68.0" y2="401.7" stroke="#2fb52f" stroke-width="1.5"/>
<line x1="65.0" y1="407.9" x2="71.7" y2="402.8" stroke="#2fb52f" stroke-width="1.5"/>
<line x1="68.1" y1="409.4" x2="72.3" y2="406.2" stroke="#2fb52f" stroke-width="1.5"/>
<line x1="73.0" y1="409.6" x2="71.1" y2="411.1" stroke="#2fb52f" stroke-width="1.5"/>
<line x1="77.1" y1="410.4" x2="70.7" y2="415.2" stroke="#2fb52f" stroke-width="1.5"/>
<line x1="78.4" y1="413.4" x2="73.2" y2="417.3" stroke="#2fb52f" stroke-width="1.5"/>
<line x1="77.4" y1="418.1" x2="78.0" y2="417.6" stroke="#2fb52f" stroke-width="1.5"/>
<line x1="76.6" y1="422.5" x2="82.5" y2="418.1" stroke="#2fb52f" stroke-width="1.5"/>
<line x1="78.5" y1="425.0" x2="84.4" y2="420.6" stroke="#2fb52f" stroke-width="1.5"/>
<line x1="83.0" y1="425.5" x2="83.6" y2="425.0" stroke="#2fb52f" stroke-width="1.5"/>
<line x1="87.8" y1="425.8" x2="82.6" y2="429.7" stroke="#2fb52f" stroke-width="1.5"/>
<line x1="90.3" y1="427.9" x2="83.9" y2="432.7" stroke="#2fb52f" stroke-width="1.5"/>
<line x1="89.9" y1="432.0" x2="88.0" y2="433.5" stroke="#2fb52f" stroke-width="1.5"/>
<line x1="88.7" y1="436.9" x2="92.9" y2="433.7" stroke="#2fb52f" stroke-width="1.5"/>
<line x1="89.3" y1="440.3" x2="96.0" y2="435.2" stroke="#2fb52f" stroke-width="1.5"/>
<line x1="93.0" y1="441.4" x2="96.1" y2="439.1" stroke="#2fb52f" stroke-width="1.5"/>
<path d="M65.5,401.6L65.1,403.2L64.7,404.7L64.6,406.0L64.7,407.2L65.1,408.1L65.9,408.8L67.0,409.2L68.3,409.5L69.9,409.6L71.5,409.6L73.1,409.6L74.7,409.7L76.0,409.9L77.1,410.4L77.9,411.0L78.3,412.0L78.4,413.1L78.3,414.5L77.9,416.0L77.5,417.6L77.1,419.1L76.7,420.6L76.6,422.0L76.7,423.2L77.1,424.1L77.9,424.7L79.0,425.2L80.3,425.4L81.9,425.5L83.5,425.5L85.1,425.6L86.7,425.7L88.0,425.9L89.1,426.3L89.9,427.0L90.3,427.9L90.4,429.1L90.3,430.4L89.9,431.9L89.5,433.5L89.1,435.1L88.7,436.6L88.6,438.0L88.7,439.1L89.1,440.0L89.9,440.7L91.0,441.1L92.3,441.4L93.9,441.5L95.5,441.5" fill="none" stroke="#d61f1f" stroke-width="1.35" stroke-linecap="round"/>
<path d="M65.5,401.6L67.1,401.6L68.7,401.7L70.0,402.0L71.1,402.4L71.9,403.1L72.3,404.0L72.4,405.1L72.3,406.5L71.9,408.0L71.5,409.6L71.1,411.2L70.7,412.7L70.6,414.0L70.7,415.2L71.1,416.1L71.9,416.8L73.0,417.2L74.3,417.4L75.9,417.5L77.5,417.6L79.1,417.6L80.7,417.7L82.0,417.9L83.1,418.4L83.9,419.0L84.3,419.9L84.4,421.1L84.3,422.5L83.9,424.0L83.5,425.5L83.1,427.1L82.7,428.6L82.6,430.0L82.7,431.1L83.1,432.1L83.9,432.7L85.0,433.2L86.3,433.4L87.9,433.5L89.5,433.5L91.1,433.5L92.7,433.6L94.0,433.9L95.1,434.3L95.9,435.0L96.3,435.9L96.4,437.1L96.3,438.4L95.9,439.9L95.5,441.5" fill="none" stroke="#1f33d6" stroke-width="1.35" stroke-linecap="round"/>
<path d="M113.2,351.6 C105.5,355.5 104,364 108.6,369.6" fill="none" stroke="#3fa9f5" stroke-width="2.0" stroke-linecap="round"/>
<polygon points="116.4,349.6 112.8,354.4 112.8,351.7 110.5,350.3" fill="#3fa9f5"/>
<polygon points="110.4,372.6 105.5,369.2 108.2,369.1 109.4,366.7" fill="#3fa9f5"/>
<text transform="translate(159.6,340.9) rotate(-77.2)" font-family="Liberation Sans, sans-serif" font-size="9.5" fill="#333" text-anchor="middle" font-weight="normal" font-style="normal" letter-spacing="0">Acetylation</text>
<line x1="138.3" y1="368.2" x2="151.0" y2="371.9" stroke="#111" stroke-width="1.5"/>
<polygon points="156.3,373.5 149.3,374.3 151.6,372.1 150.8,369.0" fill="#111"/>
<text transform="translate(200.0084301404,289.1380596731441) rotate(-77.2)" font-family="Liberation Sans, sans-serif" font-size="8.0" fill="#111" text-anchor="middle" font-weight="normal" font-style="normal" letter-spacing="0">RNH</text>
<text transform="translate(223.07864089391,279.15401116497264) rotate(-77.2)" font-family="Liberation Sans, sans-serif" font-size="8.2" fill="#111" text-anchor="middle" font-weight="normal" font-style="normal" letter-spacing="0">O</text>
<text transform="translate(225.40843014040004,311.4380596731441) rotate(-77.2)" font-family="Liberation Sans, sans-serif" font-size="8.0" fill="#111" text-anchor="middle" font-weight="normal" font-style="normal" letter-spacing="0">R'</text>
<line x1="202.0" y1="295.8" x2="206.9" y2="299.0" stroke="#111" stroke-width="0.9"/>
<line x1="206.9" y1="299.0" x2="214.8" y2="294.2" stroke="#111" stroke-width="0.9"/>
<path d="M216.1,293.9 L219.5,283.7 M214.1,293.3 L217.5,283.1" stroke="#111" stroke-width="0.9" fill="none"/>
<line x1="214.8" y1="294.2" x2="220.4" y2="304.8" stroke="#111" stroke-width="0.9"/>
<path d="M206.9,299.0L203.7,309.5L208.5,317.3L205.6,327.9L210.3,335.7L207.5,345.2" fill="none" stroke="#111" stroke-width="0.9" stroke-linejoin="round"/>
<line x1="209.7" y1="334.8" x2="208.0" y2="344.3" stroke="#111" stroke-width="0.9"/>
<text transform="translate(210.57864089391,349.5540111649726) rotate(-77.2)" font-family="Liberation Sans, sans-serif" font-size="8.2" fill="#111" text-anchor="middle" font-weight="normal" font-style="normal" letter-spacing="0">N</text>
<text transform="translate(218.07864089391,352.0540111649726) rotate(-77.2)" font-family="Liberation Sans, sans-serif" font-size="8.2" fill="#111" text-anchor="middle" font-weight="normal" font-style="normal" letter-spacing="0">H</text>
<line x1="205.2" y1="351.2" x2="200.3" y2="355.0" stroke="#111" stroke-width="0.9"/>
<line x1="200.1" y1="355.2" x2="196.4" y2="350.7" stroke="#111" stroke-width="0.9"/>
<path d="M198.5,355.3 L195.5,365.9 M200.7,355.9 L197.7,366.5" stroke="#111" stroke-width="0.9" fill="none"/>
<text transform="translate(198.47864089391,370.85401116497263) rotate(-77.2)" font-family="Liberation Sans, sans-serif" font-size="8.2" fill="#111" text-anchor="middle" font-weight="normal" font-style="normal" letter-spacing="0">O</text>
<g transform="translate(181.4,381.5) rotate(-32.2)" stroke="#3fa9f5" stroke-width="2.8" stroke-linecap="butt"><line x1="-7" y1="0" x2="7" y2="0"/><line x1="0" y1="-7" x2="0" y2="7"/></g>
<text transform="translate(190.27864089391,398.75401116497267) rotate(-77.2)" font-family="Liberation Sans, sans-serif" font-size="8.2" fill="#111" text-anchor="middle" font-weight="normal" font-style="normal" letter-spacing="0">O</text>
<text transform="translate(183.47864089391,419.15401116497264) rotate(-77.2)" font-family="Liberation Sans, sans-serif" font-size="8.2" fill="#111" text-anchor="middle" font-weight="normal" font-style="normal" letter-spacing="0">P</text>
<text transform="translate(164.57864089391,413.15401116497264) rotate(-77.2)" font-family="Liberation Sans, sans-serif" font-size="8.2" fill="#111" text-anchor="middle" font-weight="normal" font-style="normal" letter-spacing="0">O</text>
<text transform="translate(205.27864089391,424.95401116497266) rotate(-77.2)" font-family="Liberation Sans, sans-serif" font-size="8.2" fill="#111" text-anchor="middle" font-weight="normal" font-style="normal" letter-spacing="0">O</text>
<text transform="translate(178.47864089391,439.45401116497266) rotate(-77.2)" font-family="Liberation Sans, sans-serif" font-size="8.2" fill="#111" text-anchor="middle" font-weight="normal" font-style="normal" letter-spacing="0">O</text>
<text transform="translate(187.15737637285,394.05830221400106) rotate(-77.2)" font-family="Liberation Sans, sans-serif" font-size="7" fill="#111" text-anchor="middle" font-weight="normal" font-style="normal" letter-spacing="0">-</text>
<line x1="186.2" y1="402.2" x2="182.0" y2="414.4" stroke="#111" stroke-width="0.9"/>
<line x1="165.9" y1="413.8" x2="176.5" y2="417.2" stroke="#111" stroke-width="0.9"/>
<path d="M184.6,420.8 L197.8,424.3 M185.2,418.6 L198.4,422.1" stroke="#111" stroke-width="0.9" fill="none"/>
<line x1="179.5" y1="422.8" x2="176.6" y2="434.7" stroke="#111" stroke-width="0.9"/>
<line x1="157.6" y1="414.3" x2="144.9" y2="420.2" stroke="#111" stroke-width="0.9"/>
<line x1="174.1" y1="443.0" x2="169.9" y2="454.3" stroke="#111" stroke-width="0.9"/>
<line x1="137.2" y1="426.0" x2="140.3" y2="423.7" stroke="#2fb52f" stroke-width="1.5"/>
<line x1="137.3" y1="429.9" x2="144.0" y2="424.8" stroke="#2fb52f" stroke-width="1.5"/>
<line x1="140.4" y1="431.4" x2="144.6" y2="428.2" stroke="#2fb52f" stroke-width="1.5"/>
<line x1="145.3" y1="431.6" x2="143.4" y2="433.1" stroke="#2fb52f" stroke-width="1.5"/>
<line x1="149.4" y1="432.4" x2="143.0" y2="437.2" stroke="#2fb52f" stroke-width="1.5"/>
<line x1="150.7" y1="435.4" x2="145.5" y2="439.3" stroke="#2fb52f" stroke-width="1.5"/>
<line x1="149.7" y1="440.1" x2="150.3" y2="439.6" stroke="#2fb52f" stroke-width="1.5"/>
<line x1="148.9" y1="444.5" x2="154.8" y2="440.1" stroke="#2fb52f" stroke-width="1.5"/>
<line x1="150.8" y1="447.0" x2="156.7" y2="442.6" stroke="#2fb52f" stroke-width="1.5"/>
<line x1="155.3" y1="447.5" x2="155.9" y2="447.0" stroke="#2fb52f" stroke-width="1.5"/>
<line x1="160.1" y1="447.8" x2="154.9" y2="451.7" stroke="#2fb52f" stroke-width="1.5"/>
<line x1="162.6" y1="449.9" x2="156.2" y2="454.7" stroke="#2fb52f" stroke-width="1.5"/>
<line x1="162.2" y1="454.0" x2="160.3" y2="455.5" stroke="#2fb52f" stroke-width="1.5"/>
<line x1="161.0" y1="458.9" x2="165.2" y2="455.7" stroke="#2fb52f" stroke-width="1.5"/>
<line x1="161.6" y1="462.3" x2="168.3" y2="457.2" stroke="#2fb52f" stroke-width="1.5"/>
<line x1="165.3" y1="463.4" x2="168.4" y2="461.1" stroke="#2fb52f" stroke-width="1.5"/>
<path d="M137.8,423.6L137.4,425.2L137.0,426.7L136.9,428.0L137.0,429.2L137.4,430.1L138.2,430.8L139.3,431.2L140.6,431.5L142.2,431.6L143.8,431.6L145.4,431.6L147.0,431.7L148.3,431.9L149.4,432.4L150.2,433.0L150.6,434.0L150.7,435.1L150.6,436.5L150.2,438.0L149.8,439.6L149.4,441.1L149.0,442.6L148.9,444.0L149.0,445.2L149.4,446.1L150.2,446.7L151.3,447.2L152.6,447.4L154.2,447.5L155.8,447.5L157.4,447.6L159.0,447.7L160.3,447.9L161.4,448.3L162.2,449.0L162.6,449.9L162.7,451.1L162.6,452.4L162.2,453.9L161.8,455.5L161.4,457.1L161.0,458.6L160.9,460.0L161.0,461.1L161.4,462.0L162.2,462.7L163.3,463.1L164.6,463.4L166.2,463.5L167.8,463.5" fill="none" stroke="#d61f1f" stroke-width="1.35" stroke-linecap="round"/>
<path d="M137.8,423.6L139.4,423.6L141.0,423.7L142.3,424.0L143.4,424.4L144.2,425.1L144.6,426.0L144.7,427.1L144.6,428.5L144.2,430.0L143.8,431.6L143.4,433.2L143.0,434.7L142.9,436.0L143.0,437.2L143.4,438.1L144.2,438.8L145.3,439.2L146.6,439.4L148.2,439.5L149.8,439.6L151.4,439.6L153.0,439.7L154.3,439.9L155.4,440.4L156.2,441.0L156.6,441.9L156.7,443.1L156.6,444.5L156.2,446.0L155.8,447.5L155.4,449.1L155.0,450.6L154.9,452.0L155.0,453.1L155.4,454.1L156.2,454.7L157.3,455.2L158.6,455.4L160.2,455.5L161.8,455.5L163.4,455.5L165.0,455.6L166.3,455.9L167.4,456.3L168.2,457.0L168.6,457.9L168.7,459.1L168.6,460.4L168.2,461.9L167.8,463.5" fill="none" stroke="#1f33d6" stroke-width="1.35" stroke-linecap="round"/>
</svg>
</body></html>
